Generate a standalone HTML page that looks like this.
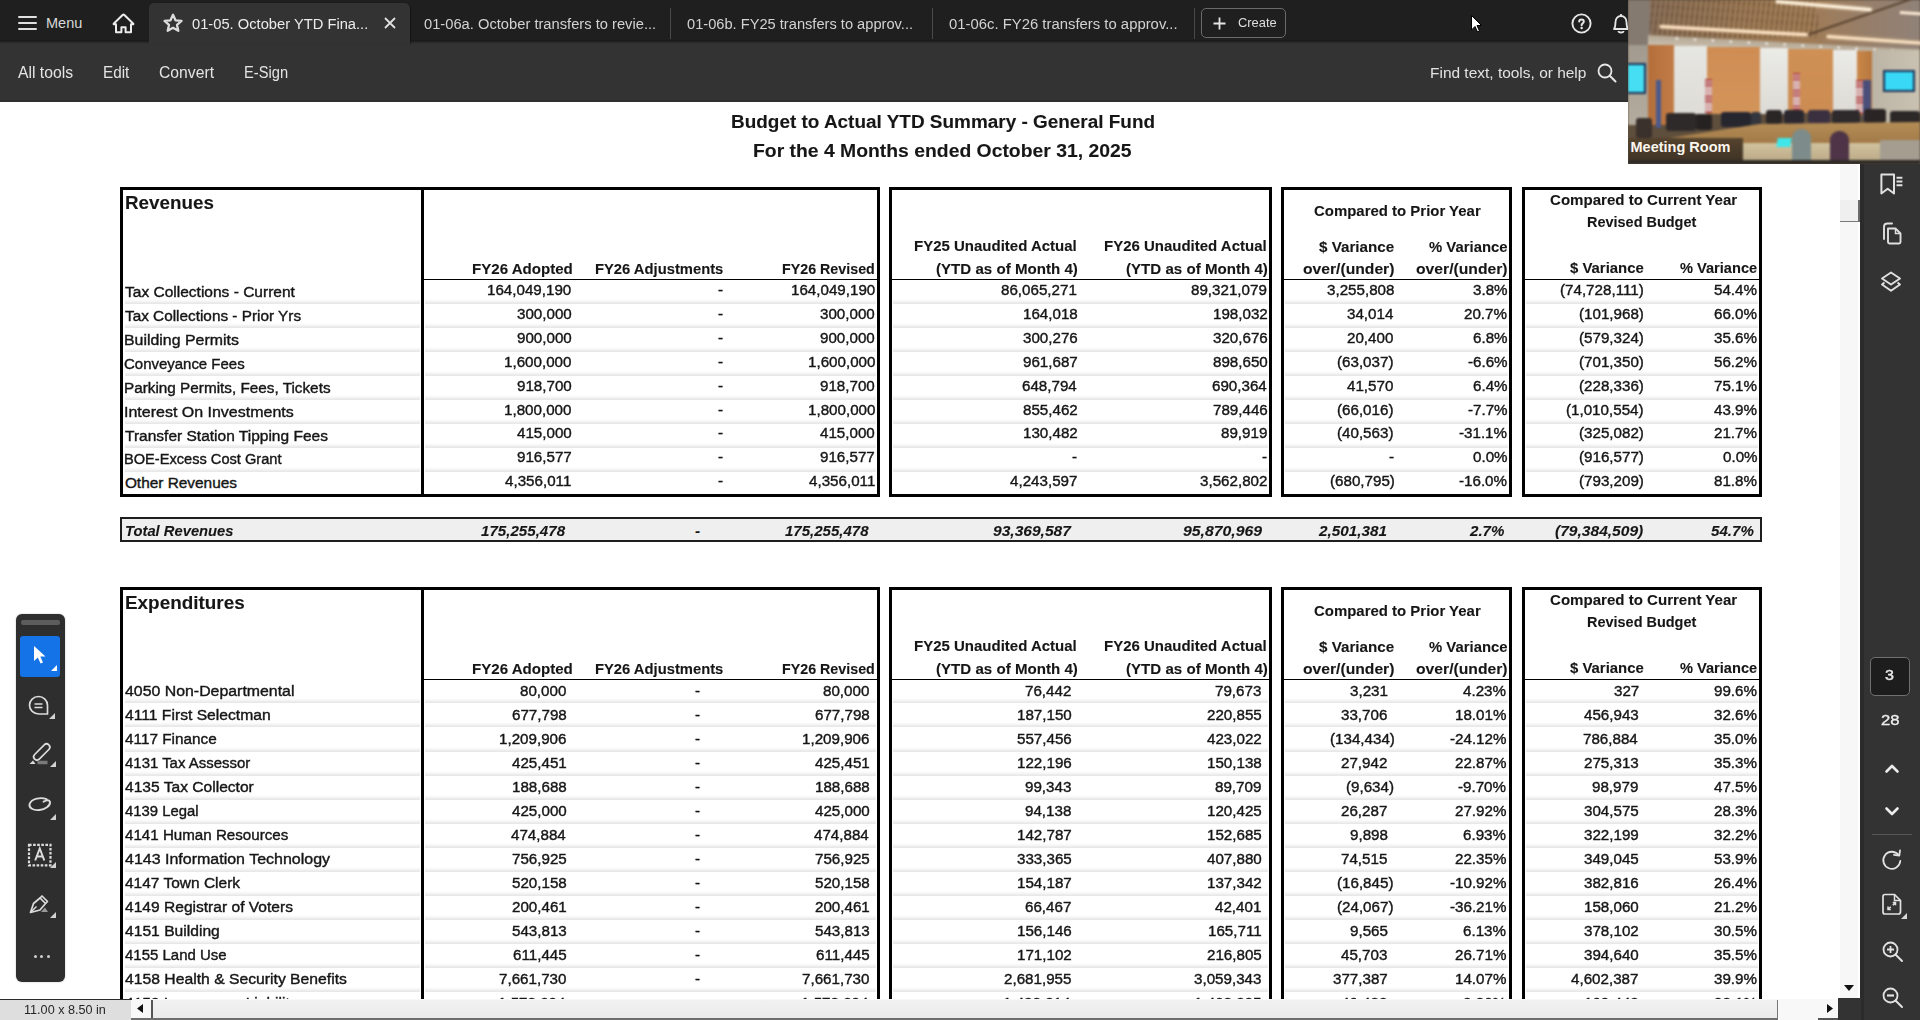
<!DOCTYPE html>
<html><head><meta charset="utf-8">
<style>
*{margin:0;padding:0;box-sizing:border-box}
html,body{width:1920px;height:1020px;overflow:hidden;background:#fff;font-family:"Liberation Sans",sans-serif}
.t{position:absolute;white-space:nowrap;transform-origin:0 0}
#page .t.n{-webkit-text-stroke:0.4px #161616}
#page .t{-webkit-text-stroke:0.1px #161616}
.t.sb{-webkit-text-stroke:0.35px #ededed}
.r{position:absolute}
#top{position:absolute;left:0;top:0;width:1920px;height:41px;background:#1f1f1f}
#tb{position:absolute;left:0;top:40px;width:1920px;height:62px;background:linear-gradient(180deg,#1a1a1a 0,#1c1c1c 1px,#2a2a2a 2.5px,#333 4px,#333 60px,#2e2e2e 61px,#2e2e2e 62px)}
#pagewrap{position:absolute;left:0;top:102px;width:1840px;height:897px;overflow:hidden;background:#fff}
#page{position:absolute;left:0;top:-102px;width:1840px;height:1100px}
.ui{position:absolute;white-space:nowrap;color:#e3e3e3;font-size:15px;line-height:15px}
svg{position:absolute;overflow:visible}
</style></head><body>
<div id="pagewrap"><div id="page">
<div class="t" style="left:730.65px;top:113.36px;font-size:18px;line-height:18px;font-weight:bold;color:#161616;transform:scaleX(1.0521);">Budget to Actual YTD Summary - General Fund</div>
<div class="t" style="left:752.93px;top:141.96px;font-size:18px;line-height:18px;font-weight:bold;color:#161616;transform:scaleX(1.0749);">For the 4 Months ended October 31, 2025</div>
<div class="r" style="left:120px;top:187px;width:760px;height:3px;background:#000;"></div>
<div class="r" style="left:120px;top:494px;width:760px;height:3px;background:#000;"></div>
<div class="r" style="left:120px;top:187px;width:3px;height:310px;background:#000;"></div>
<div class="r" style="left:877px;top:187px;width:3px;height:310px;background:#000;"></div>
<div class="r" style="left:889px;top:187px;width:383px;height:3px;background:#000;"></div>
<div class="r" style="left:889px;top:494px;width:383px;height:3px;background:#000;"></div>
<div class="r" style="left:889px;top:187px;width:3px;height:310px;background:#000;"></div>
<div class="r" style="left:1269px;top:187px;width:3px;height:310px;background:#000;"></div>
<div class="r" style="left:1281px;top:187px;width:231px;height:3px;background:#000;"></div>
<div class="r" style="left:1281px;top:494px;width:231px;height:3px;background:#000;"></div>
<div class="r" style="left:1281px;top:187px;width:3px;height:310px;background:#000;"></div>
<div class="r" style="left:1509px;top:187px;width:3px;height:310px;background:#000;"></div>
<div class="r" style="left:1522px;top:187px;width:240px;height:3px;background:#000;"></div>
<div class="r" style="left:1522px;top:494px;width:240px;height:3px;background:#000;"></div>
<div class="r" style="left:1522px;top:187px;width:3px;height:310px;background:#000;"></div>
<div class="r" style="left:1759px;top:187px;width:3px;height:310px;background:#000;"></div>
<div class="r" style="left:421px;top:187px;width:3px;height:310px;background:#000;"></div>
<div class="r" style="left:424px;top:278.7px;width:453px;height:1.5px;background:#000;"></div>
<div class="r" style="left:892px;top:278.7px;width:377px;height:1.5px;background:#000;"></div>
<div class="r" style="left:1284px;top:278.7px;width:225px;height:1.5px;background:#000;"></div>
<div class="r" style="left:1525px;top:278.7px;width:234px;height:1.5px;background:#000;"></div>
<div class="r" style="left:125px;top:299.0px;width:295px;height:5px;background:linear-gradient(180deg,rgba(0,0,0,0),rgba(0,0,0,.03) 40%,rgba(0,0,0,.085) 80%,rgba(0,0,0,.095));"></div>
<div class="r" style="left:425px;top:299.0px;width:451px;height:5px;background:linear-gradient(180deg,rgba(0,0,0,0),rgba(0,0,0,.03) 40%,rgba(0,0,0,.085) 80%,rgba(0,0,0,.095));"></div>
<div class="r" style="left:893px;top:299.0px;width:375px;height:5px;background:linear-gradient(180deg,rgba(0,0,0,0),rgba(0,0,0,.03) 40%,rgba(0,0,0,.085) 80%,rgba(0,0,0,.095));"></div>
<div class="r" style="left:1285px;top:299.0px;width:223px;height:5px;background:linear-gradient(180deg,rgba(0,0,0,0),rgba(0,0,0,.03) 40%,rgba(0,0,0,.085) 80%,rgba(0,0,0,.095));"></div>
<div class="r" style="left:1526px;top:299.0px;width:232px;height:5px;background:linear-gradient(180deg,rgba(0,0,0,0),rgba(0,0,0,.03) 40%,rgba(0,0,0,.085) 80%,rgba(0,0,0,.095));"></div>
<div class="r" style="left:125px;top:322.93px;width:295px;height:5px;background:linear-gradient(180deg,rgba(0,0,0,0),rgba(0,0,0,.03) 40%,rgba(0,0,0,.085) 80%,rgba(0,0,0,.095));"></div>
<div class="r" style="left:425px;top:322.93px;width:451px;height:5px;background:linear-gradient(180deg,rgba(0,0,0,0),rgba(0,0,0,.03) 40%,rgba(0,0,0,.085) 80%,rgba(0,0,0,.095));"></div>
<div class="r" style="left:893px;top:322.93px;width:375px;height:5px;background:linear-gradient(180deg,rgba(0,0,0,0),rgba(0,0,0,.03) 40%,rgba(0,0,0,.085) 80%,rgba(0,0,0,.095));"></div>
<div class="r" style="left:1285px;top:322.93px;width:223px;height:5px;background:linear-gradient(180deg,rgba(0,0,0,0),rgba(0,0,0,.03) 40%,rgba(0,0,0,.085) 80%,rgba(0,0,0,.095));"></div>
<div class="r" style="left:1526px;top:322.93px;width:232px;height:5px;background:linear-gradient(180deg,rgba(0,0,0,0),rgba(0,0,0,.03) 40%,rgba(0,0,0,.085) 80%,rgba(0,0,0,.095));"></div>
<div class="r" style="left:125px;top:346.86px;width:295px;height:5px;background:linear-gradient(180deg,rgba(0,0,0,0),rgba(0,0,0,.03) 40%,rgba(0,0,0,.085) 80%,rgba(0,0,0,.095));"></div>
<div class="r" style="left:425px;top:346.86px;width:451px;height:5px;background:linear-gradient(180deg,rgba(0,0,0,0),rgba(0,0,0,.03) 40%,rgba(0,0,0,.085) 80%,rgba(0,0,0,.095));"></div>
<div class="r" style="left:893px;top:346.86px;width:375px;height:5px;background:linear-gradient(180deg,rgba(0,0,0,0),rgba(0,0,0,.03) 40%,rgba(0,0,0,.085) 80%,rgba(0,0,0,.095));"></div>
<div class="r" style="left:1285px;top:346.86px;width:223px;height:5px;background:linear-gradient(180deg,rgba(0,0,0,0),rgba(0,0,0,.03) 40%,rgba(0,0,0,.085) 80%,rgba(0,0,0,.095));"></div>
<div class="r" style="left:1526px;top:346.86px;width:232px;height:5px;background:linear-gradient(180deg,rgba(0,0,0,0),rgba(0,0,0,.03) 40%,rgba(0,0,0,.085) 80%,rgba(0,0,0,.095));"></div>
<div class="r" style="left:125px;top:370.78999999999996px;width:295px;height:5px;background:linear-gradient(180deg,rgba(0,0,0,0),rgba(0,0,0,.03) 40%,rgba(0,0,0,.085) 80%,rgba(0,0,0,.095));"></div>
<div class="r" style="left:425px;top:370.78999999999996px;width:451px;height:5px;background:linear-gradient(180deg,rgba(0,0,0,0),rgba(0,0,0,.03) 40%,rgba(0,0,0,.085) 80%,rgba(0,0,0,.095));"></div>
<div class="r" style="left:893px;top:370.78999999999996px;width:375px;height:5px;background:linear-gradient(180deg,rgba(0,0,0,0),rgba(0,0,0,.03) 40%,rgba(0,0,0,.085) 80%,rgba(0,0,0,.095));"></div>
<div class="r" style="left:1285px;top:370.78999999999996px;width:223px;height:5px;background:linear-gradient(180deg,rgba(0,0,0,0),rgba(0,0,0,.03) 40%,rgba(0,0,0,.085) 80%,rgba(0,0,0,.095));"></div>
<div class="r" style="left:1526px;top:370.78999999999996px;width:232px;height:5px;background:linear-gradient(180deg,rgba(0,0,0,0),rgba(0,0,0,.03) 40%,rgba(0,0,0,.085) 80%,rgba(0,0,0,.095));"></div>
<div class="r" style="left:125px;top:394.72px;width:295px;height:5px;background:linear-gradient(180deg,rgba(0,0,0,0),rgba(0,0,0,.03) 40%,rgba(0,0,0,.085) 80%,rgba(0,0,0,.095));"></div>
<div class="r" style="left:425px;top:394.72px;width:451px;height:5px;background:linear-gradient(180deg,rgba(0,0,0,0),rgba(0,0,0,.03) 40%,rgba(0,0,0,.085) 80%,rgba(0,0,0,.095));"></div>
<div class="r" style="left:893px;top:394.72px;width:375px;height:5px;background:linear-gradient(180deg,rgba(0,0,0,0),rgba(0,0,0,.03) 40%,rgba(0,0,0,.085) 80%,rgba(0,0,0,.095));"></div>
<div class="r" style="left:1285px;top:394.72px;width:223px;height:5px;background:linear-gradient(180deg,rgba(0,0,0,0),rgba(0,0,0,.03) 40%,rgba(0,0,0,.085) 80%,rgba(0,0,0,.095));"></div>
<div class="r" style="left:1526px;top:394.72px;width:232px;height:5px;background:linear-gradient(180deg,rgba(0,0,0,0),rgba(0,0,0,.03) 40%,rgba(0,0,0,.085) 80%,rgba(0,0,0,.095));"></div>
<div class="r" style="left:125px;top:418.65px;width:295px;height:5px;background:linear-gradient(180deg,rgba(0,0,0,0),rgba(0,0,0,.03) 40%,rgba(0,0,0,.085) 80%,rgba(0,0,0,.095));"></div>
<div class="r" style="left:425px;top:418.65px;width:451px;height:5px;background:linear-gradient(180deg,rgba(0,0,0,0),rgba(0,0,0,.03) 40%,rgba(0,0,0,.085) 80%,rgba(0,0,0,.095));"></div>
<div class="r" style="left:893px;top:418.65px;width:375px;height:5px;background:linear-gradient(180deg,rgba(0,0,0,0),rgba(0,0,0,.03) 40%,rgba(0,0,0,.085) 80%,rgba(0,0,0,.095));"></div>
<div class="r" style="left:1285px;top:418.65px;width:223px;height:5px;background:linear-gradient(180deg,rgba(0,0,0,0),rgba(0,0,0,.03) 40%,rgba(0,0,0,.085) 80%,rgba(0,0,0,.095));"></div>
<div class="r" style="left:1526px;top:418.65px;width:232px;height:5px;background:linear-gradient(180deg,rgba(0,0,0,0),rgba(0,0,0,.03) 40%,rgba(0,0,0,.085) 80%,rgba(0,0,0,.095));"></div>
<div class="r" style="left:125px;top:442.58px;width:295px;height:5px;background:linear-gradient(180deg,rgba(0,0,0,0),rgba(0,0,0,.03) 40%,rgba(0,0,0,.085) 80%,rgba(0,0,0,.095));"></div>
<div class="r" style="left:425px;top:442.58px;width:451px;height:5px;background:linear-gradient(180deg,rgba(0,0,0,0),rgba(0,0,0,.03) 40%,rgba(0,0,0,.085) 80%,rgba(0,0,0,.095));"></div>
<div class="r" style="left:893px;top:442.58px;width:375px;height:5px;background:linear-gradient(180deg,rgba(0,0,0,0),rgba(0,0,0,.03) 40%,rgba(0,0,0,.085) 80%,rgba(0,0,0,.095));"></div>
<div class="r" style="left:1285px;top:442.58px;width:223px;height:5px;background:linear-gradient(180deg,rgba(0,0,0,0),rgba(0,0,0,.03) 40%,rgba(0,0,0,.085) 80%,rgba(0,0,0,.095));"></div>
<div class="r" style="left:1526px;top:442.58px;width:232px;height:5px;background:linear-gradient(180deg,rgba(0,0,0,0),rgba(0,0,0,.03) 40%,rgba(0,0,0,.085) 80%,rgba(0,0,0,.095));"></div>
<div class="r" style="left:125px;top:466.51px;width:295px;height:5px;background:linear-gradient(180deg,rgba(0,0,0,0),rgba(0,0,0,.03) 40%,rgba(0,0,0,.085) 80%,rgba(0,0,0,.095));"></div>
<div class="r" style="left:425px;top:466.51px;width:451px;height:5px;background:linear-gradient(180deg,rgba(0,0,0,0),rgba(0,0,0,.03) 40%,rgba(0,0,0,.085) 80%,rgba(0,0,0,.095));"></div>
<div class="r" style="left:893px;top:466.51px;width:375px;height:5px;background:linear-gradient(180deg,rgba(0,0,0,0),rgba(0,0,0,.03) 40%,rgba(0,0,0,.085) 80%,rgba(0,0,0,.095));"></div>
<div class="r" style="left:1285px;top:466.51px;width:223px;height:5px;background:linear-gradient(180deg,rgba(0,0,0,0),rgba(0,0,0,.03) 40%,rgba(0,0,0,.085) 80%,rgba(0,0,0,.095));"></div>
<div class="r" style="left:1526px;top:466.51px;width:232px;height:5px;background:linear-gradient(180deg,rgba(0,0,0,0),rgba(0,0,0,.03) 40%,rgba(0,0,0,.085) 80%,rgba(0,0,0,.095));"></div>
<div class="t" style="left:124.76px;top:194.36px;font-size:18px;line-height:18px;font-weight:bold;color:#161616;transform:scaleX(1.0446);">Revenues</div>
<div class="t" style="left:471.57px;top:261.66px;font-size:14.7px;line-height:14.7px;font-weight:bold;color:#161616;transform:scaleX(1.0260);">FY26 Adopted</div>
<div class="t" style="left:594.69px;top:261.66px;font-size:14.7px;line-height:14.7px;font-weight:bold;color:#161616;transform:scaleX(1.0056);">FY26 Adjustments</div>
<div class="t" style="left:782.03px;top:261.66px;font-size:14.7px;line-height:14.7px;font-weight:bold;color:#161616;transform:scaleX(0.9713);">FY26 Revised</div>
<div class="t" style="left:914.18px;top:239.46px;font-size:14.7px;line-height:14.7px;font-weight:bold;color:#161616;transform:scaleX(1.0209);">FY25 Unaudited Actual</div>
<div class="t" style="left:935.57px;top:261.66px;font-size:14.7px;line-height:14.7px;font-weight:bold;color:#161616;transform:scaleX(1.0287);">(YTD as of Month 4)</div>
<div class="t" style="left:1104.28px;top:239.46px;font-size:14.7px;line-height:14.7px;font-weight:bold;color:#161616;transform:scaleX(1.0203);">FY26 Unaudited Actual</div>
<div class="t" style="left:1125.57px;top:261.66px;font-size:14.7px;line-height:14.7px;font-weight:bold;color:#161616;transform:scaleX(1.0287);">(YTD as of Month 4)</div>
<div class="t" style="left:1313.68px;top:203.96px;font-size:14.7px;line-height:14.7px;font-weight:bold;color:#161616;transform:scaleX(1.0178);">Compared to Prior Year</div>
<div class="t" style="left:1318.70px;top:239.66px;font-size:14.7px;line-height:14.7px;font-weight:bold;color:#161616;transform:scaleX(1.0347);">$ Variance</div>
<div class="t" style="left:1302.50px;top:261.66px;font-size:14.7px;line-height:14.7px;font-weight:bold;color:#161616;transform:scaleX(1.0671);">over/(under)</div>
<div class="t" style="left:1429.00px;top:239.66px;font-size:14.7px;line-height:14.7px;font-weight:bold;color:#161616;transform:scaleX(1.0130);">% Variance</div>
<div class="t" style="left:1416.20px;top:261.66px;font-size:14.7px;line-height:14.7px;font-weight:bold;color:#161616;transform:scaleX(1.0682);">over/(under)</div>
<div class="t" style="left:1550.47px;top:192.66px;font-size:14.7px;line-height:14.7px;font-weight:bold;color:#161616;transform:scaleX(1.0254);">Compared to Current Year</div>
<div class="t" style="left:1587.02px;top:215.16px;font-size:14.7px;line-height:14.7px;font-weight:bold;color:#161616;transform:scaleX(0.9845);">Revised Budget</div>
<div class="t" style="left:1569.80px;top:260.96px;font-size:14.7px;line-height:14.7px;font-weight:bold;color:#161616;transform:scaleX(1.0153);">$ Variance</div>
<div class="t" style="left:1680.20px;top:260.96px;font-size:14.7px;line-height:14.7px;font-weight:bold;color:#161616;transform:scaleX(0.9948);">% Variance</div>
<div class="t n" style="left:124.90px;top:283.96px;font-size:15.4px;line-height:15.4px;color:#161616;transform:scaleX(1.0083);">Tax Collections - Current</div>
<div class="t n" style="left:487.48px;top:281.86px;font-size:15.4px;line-height:15.4px;color:#161616;transform:scaleX(0.9850);">164,049,190</div>
<div class="t n" style="left:718.28px;top:281.86px;font-size:15.4px;line-height:15.4px;color:#161616;transform:scaleX(0.9850);">-</div>
<div class="t n" style="left:790.88px;top:281.86px;font-size:15.4px;line-height:15.4px;color:#161616;transform:scaleX(0.9850);">164,049,190</div>
<div class="t n" style="left:1000.95px;top:281.86px;font-size:15.4px;line-height:15.4px;color:#161616;transform:scaleX(0.9850);">86,065,271</div>
<div class="t n" style="left:1190.95px;top:281.86px;font-size:15.4px;line-height:15.4px;color:#161616;transform:scaleX(0.9850);">89,321,079</div>
<div class="t n" style="left:1326.62px;top:281.86px;font-size:15.4px;line-height:15.4px;color:#161616;transform:scaleX(0.9850);">3,255,808</div>
<div class="t n" style="left:1472.73px;top:281.86px;font-size:15.4px;line-height:15.4px;color:#161616;transform:scaleX(0.9850);">3.8%</div>
<div class="t n" style="left:1560.46px;top:281.86px;font-size:15.4px;line-height:15.4px;color:#161616;transform:scaleX(0.9850);">(74,728,111)</div>
<div class="t n" style="left:1713.66px;top:281.86px;font-size:15.4px;line-height:15.4px;color:#161616;transform:scaleX(0.9850);">54.4%</div>
<div class="t n" style="left:124.90px;top:307.89px;font-size:15.4px;line-height:15.4px;color:#161616;transform:scaleX(0.9960);">Tax Collections - Prior Yrs</div>
<div class="t n" style="left:517.03px;top:305.79px;font-size:15.4px;line-height:15.4px;color:#161616;transform:scaleX(0.9850);">300,000</div>
<div class="t n" style="left:718.28px;top:305.79px;font-size:15.4px;line-height:15.4px;color:#161616;transform:scaleX(0.9850);">-</div>
<div class="t n" style="left:820.43px;top:305.79px;font-size:15.4px;line-height:15.4px;color:#161616;transform:scaleX(0.9850);">300,000</div>
<div class="t n" style="left:1022.62px;top:305.79px;font-size:15.4px;line-height:15.4px;color:#161616;transform:scaleX(0.9850);">164,018</div>
<div class="t n" style="left:1212.62px;top:305.79px;font-size:15.4px;line-height:15.4px;color:#161616;transform:scaleX(0.9850);">198,032</div>
<div class="t n" style="left:1347.30px;top:305.79px;font-size:15.4px;line-height:15.4px;color:#161616;transform:scaleX(0.9850);">34,014</div>
<div class="t n" style="left:1463.86px;top:305.79px;font-size:15.4px;line-height:15.4px;color:#161616;transform:scaleX(0.9850);">20.7%</div>
<div class="t n" style="left:1579.17px;top:305.79px;font-size:15.4px;line-height:15.4px;color:#161616;transform:scaleX(0.9850);">(101,968)</div>
<div class="t n" style="left:1713.66px;top:305.79px;font-size:15.4px;line-height:15.4px;color:#161616;transform:scaleX(0.9850);">66.0%</div>
<div class="t n" style="left:123.87px;top:331.82px;font-size:15.4px;line-height:15.4px;color:#161616;transform:scaleX(1.0327);">Building Permits</div>
<div class="t n" style="left:517.03px;top:329.72px;font-size:15.4px;line-height:15.4px;color:#161616;transform:scaleX(0.9850);">900,000</div>
<div class="t n" style="left:718.28px;top:329.72px;font-size:15.4px;line-height:15.4px;color:#161616;transform:scaleX(0.9850);">-</div>
<div class="t n" style="left:820.43px;top:329.72px;font-size:15.4px;line-height:15.4px;color:#161616;transform:scaleX(0.9850);">900,000</div>
<div class="t n" style="left:1022.62px;top:329.72px;font-size:15.4px;line-height:15.4px;color:#161616;transform:scaleX(0.9850);">300,276</div>
<div class="t n" style="left:1212.62px;top:329.72px;font-size:15.4px;line-height:15.4px;color:#161616;transform:scaleX(0.9850);">320,676</div>
<div class="t n" style="left:1347.30px;top:329.72px;font-size:15.4px;line-height:15.4px;color:#161616;transform:scaleX(0.9850);">20,400</div>
<div class="t n" style="left:1472.73px;top:329.72px;font-size:15.4px;line-height:15.4px;color:#161616;transform:scaleX(0.9850);">6.8%</div>
<div class="t n" style="left:1579.17px;top:329.72px;font-size:15.4px;line-height:15.4px;color:#161616;transform:scaleX(0.9850);">(579,324)</div>
<div class="t n" style="left:1713.66px;top:329.72px;font-size:15.4px;line-height:15.4px;color:#161616;transform:scaleX(0.9850);">35.6%</div>
<div class="t n" style="left:123.93px;top:355.75px;font-size:15.4px;line-height:15.4px;color:#161616;transform:scaleX(0.9724);">Conveyance Fees</div>
<div class="t n" style="left:504.22px;top:353.65px;font-size:15.4px;line-height:15.4px;color:#161616;transform:scaleX(0.9850);">1,600,000</div>
<div class="t n" style="left:718.28px;top:353.65px;font-size:15.4px;line-height:15.4px;color:#161616;transform:scaleX(0.9850);">-</div>
<div class="t n" style="left:807.62px;top:353.65px;font-size:15.4px;line-height:15.4px;color:#161616;transform:scaleX(0.9850);">1,600,000</div>
<div class="t n" style="left:1022.62px;top:353.65px;font-size:15.4px;line-height:15.4px;color:#161616;transform:scaleX(0.9850);">961,687</div>
<div class="t n" style="left:1212.62px;top:353.65px;font-size:15.4px;line-height:15.4px;color:#161616;transform:scaleX(0.9850);">898,650</div>
<div class="t n" style="left:1337.45px;top:353.65px;font-size:15.4px;line-height:15.4px;color:#161616;transform:scaleX(0.9850);">(63,037)</div>
<div class="t n" style="left:1467.80px;top:353.65px;font-size:15.4px;line-height:15.4px;color:#161616;transform:scaleX(0.9850);">-6.6%</div>
<div class="t n" style="left:1579.17px;top:353.65px;font-size:15.4px;line-height:15.4px;color:#161616;transform:scaleX(0.9850);">(701,350)</div>
<div class="t n" style="left:1713.66px;top:353.65px;font-size:15.4px;line-height:15.4px;color:#161616;transform:scaleX(0.9850);">56.2%</div>
<div class="t n" style="left:123.91px;top:379.68px;font-size:15.4px;line-height:15.4px;color:#161616;transform:scaleX(0.9937);">Parking Permits, Fees, Tickets</div>
<div class="t n" style="left:517.03px;top:377.58px;font-size:15.4px;line-height:15.4px;color:#161616;transform:scaleX(0.9850);">918,700</div>
<div class="t n" style="left:718.28px;top:377.58px;font-size:15.4px;line-height:15.4px;color:#161616;transform:scaleX(0.9850);">-</div>
<div class="t n" style="left:820.43px;top:377.58px;font-size:15.4px;line-height:15.4px;color:#161616;transform:scaleX(0.9850);">918,700</div>
<div class="t n" style="left:1021.64px;top:377.58px;font-size:15.4px;line-height:15.4px;color:#161616;transform:scaleX(0.9850);">648,794</div>
<div class="t n" style="left:1211.64px;top:377.58px;font-size:15.4px;line-height:15.4px;color:#161616;transform:scaleX(0.9850);">690,364</div>
<div class="t n" style="left:1347.30px;top:377.58px;font-size:15.4px;line-height:15.4px;color:#161616;transform:scaleX(0.9850);">41,570</div>
<div class="t n" style="left:1472.73px;top:377.58px;font-size:15.4px;line-height:15.4px;color:#161616;transform:scaleX(0.9850);">6.4%</div>
<div class="t n" style="left:1579.17px;top:377.58px;font-size:15.4px;line-height:15.4px;color:#161616;transform:scaleX(0.9850);">(228,336)</div>
<div class="t n" style="left:1713.66px;top:377.58px;font-size:15.4px;line-height:15.4px;color:#161616;transform:scaleX(0.9850);">75.1%</div>
<div class="t n" style="left:123.86px;top:403.61px;font-size:15.4px;line-height:15.4px;color:#161616;transform:scaleX(1.0389);">Interest On Investments</div>
<div class="t n" style="left:504.22px;top:401.51px;font-size:15.4px;line-height:15.4px;color:#161616;transform:scaleX(0.9850);">1,800,000</div>
<div class="t n" style="left:718.28px;top:401.51px;font-size:15.4px;line-height:15.4px;color:#161616;transform:scaleX(0.9850);">-</div>
<div class="t n" style="left:807.62px;top:401.51px;font-size:15.4px;line-height:15.4px;color:#161616;transform:scaleX(0.9850);">1,800,000</div>
<div class="t n" style="left:1022.62px;top:401.51px;font-size:15.4px;line-height:15.4px;color:#161616;transform:scaleX(0.9850);">855,462</div>
<div class="t n" style="left:1212.62px;top:401.51px;font-size:15.4px;line-height:15.4px;color:#161616;transform:scaleX(0.9850);">789,446</div>
<div class="t n" style="left:1337.45px;top:401.51px;font-size:15.4px;line-height:15.4px;color:#161616;transform:scaleX(0.9850);">(66,016)</div>
<div class="t n" style="left:1467.80px;top:401.51px;font-size:15.4px;line-height:15.4px;color:#161616;transform:scaleX(0.9850);">-7.7%</div>
<div class="t n" style="left:1566.37px;top:401.51px;font-size:15.4px;line-height:15.4px;color:#161616;transform:scaleX(0.9850);">(1,010,554)</div>
<div class="t n" style="left:1713.66px;top:401.51px;font-size:15.4px;line-height:15.4px;color:#161616;transform:scaleX(0.9850);">43.9%</div>
<div class="t n" style="left:124.90px;top:427.54px;font-size:15.4px;line-height:15.4px;color:#161616;transform:scaleX(1.0080);">Transfer Station Tipping Fees</div>
<div class="t n" style="left:517.03px;top:425.44px;font-size:15.4px;line-height:15.4px;color:#161616;transform:scaleX(0.9850);">415,000</div>
<div class="t n" style="left:718.28px;top:425.44px;font-size:15.4px;line-height:15.4px;color:#161616;transform:scaleX(0.9850);">-</div>
<div class="t n" style="left:820.43px;top:425.44px;font-size:15.4px;line-height:15.4px;color:#161616;transform:scaleX(0.9850);">415,000</div>
<div class="t n" style="left:1022.62px;top:425.44px;font-size:15.4px;line-height:15.4px;color:#161616;transform:scaleX(0.9850);">130,482</div>
<div class="t n" style="left:1220.50px;top:425.44px;font-size:15.4px;line-height:15.4px;color:#161616;transform:scaleX(0.9850);">89,919</div>
<div class="t n" style="left:1337.45px;top:425.44px;font-size:15.4px;line-height:15.4px;color:#161616;transform:scaleX(0.9850);">(40,563)</div>
<div class="t n" style="left:1458.93px;top:425.44px;font-size:15.4px;line-height:15.4px;color:#161616;transform:scaleX(0.9850);">-31.1%</div>
<div class="t n" style="left:1579.17px;top:425.44px;font-size:15.4px;line-height:15.4px;color:#161616;transform:scaleX(0.9850);">(325,082)</div>
<div class="t n" style="left:1713.66px;top:425.44px;font-size:15.4px;line-height:15.4px;color:#161616;transform:scaleX(0.9850);">21.7%</div>
<div class="t n" style="left:123.95px;top:451.47px;font-size:15.4px;line-height:15.4px;color:#161616;transform:scaleX(0.9491);">BOE-Excess Cost Grant</div>
<div class="t n" style="left:517.03px;top:449.37px;font-size:15.4px;line-height:15.4px;color:#161616;transform:scaleX(0.9850);">916,577</div>
<div class="t n" style="left:718.28px;top:449.37px;font-size:15.4px;line-height:15.4px;color:#161616;transform:scaleX(0.9850);">-</div>
<div class="t n" style="left:820.43px;top:449.37px;font-size:15.4px;line-height:15.4px;color:#161616;transform:scaleX(0.9850);">916,577</div>
<div class="t n" style="left:1071.88px;top:449.37px;font-size:15.4px;line-height:15.4px;color:#161616;transform:scaleX(0.9850);">-</div>
<div class="t n" style="left:1261.88px;top:449.37px;font-size:15.4px;line-height:15.4px;color:#161616;transform:scaleX(0.9850);">-</div>
<div class="t n" style="left:1388.67px;top:449.37px;font-size:15.4px;line-height:15.4px;color:#161616;transform:scaleX(0.9850);">-</div>
<div class="t n" style="left:1472.73px;top:449.37px;font-size:15.4px;line-height:15.4px;color:#161616;transform:scaleX(0.9850);">0.0%</div>
<div class="t n" style="left:1579.17px;top:449.37px;font-size:15.4px;line-height:15.4px;color:#161616;transform:scaleX(0.9850);">(916,577)</div>
<div class="t n" style="left:1722.53px;top:449.37px;font-size:15.4px;line-height:15.4px;color:#161616;transform:scaleX(0.9850);">0.0%</div>
<div class="t n" style="left:124.90px;top:475.40px;font-size:15.4px;line-height:15.4px;color:#161616;">Other Revenues</div>
<div class="t n" style="left:505.21px;top:473.30px;font-size:15.4px;line-height:15.4px;color:#161616;transform:scaleX(0.9850);">4,356,011</div>
<div class="t n" style="left:718.28px;top:473.30px;font-size:15.4px;line-height:15.4px;color:#161616;transform:scaleX(0.9850);">-</div>
<div class="t n" style="left:808.61px;top:473.30px;font-size:15.4px;line-height:15.4px;color:#161616;transform:scaleX(0.9850);">4,356,011</div>
<div class="t n" style="left:1009.82px;top:473.30px;font-size:15.4px;line-height:15.4px;color:#161616;transform:scaleX(0.9850);">4,243,597</div>
<div class="t n" style="left:1199.82px;top:473.30px;font-size:15.4px;line-height:15.4px;color:#161616;transform:scaleX(0.9850);">3,562,802</div>
<div class="t n" style="left:1329.57px;top:473.30px;font-size:15.4px;line-height:15.4px;color:#161616;transform:scaleX(0.9850);">(680,795)</div>
<div class="t n" style="left:1458.93px;top:473.30px;font-size:15.4px;line-height:15.4px;color:#161616;transform:scaleX(0.9850);">-16.0%</div>
<div class="t n" style="left:1579.17px;top:473.30px;font-size:15.4px;line-height:15.4px;color:#161616;transform:scaleX(0.9850);">(793,209)</div>
<div class="t n" style="left:1713.66px;top:473.30px;font-size:15.4px;line-height:15.4px;color:#161616;transform:scaleX(0.9850);">81.8%</div>
<div class="r" style="left:120.3px;top:517.4px;width:1641.5px;height:24.4px;background:#efefef;border:2px solid #1e1e1e;box-sizing:border-box;"></div>
<div class="t" style="left:124.64px;top:522.56px;font-size:15.4px;line-height:15.4px;font-weight:bold;font-style:italic;color:#161616;transform:scaleX(0.9589);">Total Revenues</div>
<div class="t" style="left:480.70px;top:522.56px;font-size:15.4px;line-height:15.4px;font-weight:bold;font-style:italic;color:#161616;transform:scaleX(0.9826);">175,255,478</div>
<div class="t" style="left:695.00px;top:522.56px;font-size:15.4px;line-height:15.4px;font-weight:bold;font-style:italic;color:#161616;">-</div>
<div class="t" style="left:784.60px;top:522.56px;font-size:15.4px;line-height:15.4px;font-weight:bold;font-style:italic;color:#161616;transform:scaleX(0.9767);">175,255,478</div>
<div class="t" style="left:992.99px;top:522.56px;font-size:15.4px;line-height:15.4px;font-weight:bold;font-style:italic;color:#161616;transform:scaleX(1.0117);">93,369,587</div>
<div class="t" style="left:1182.97px;top:522.56px;font-size:15.4px;line-height:15.4px;font-weight:bold;font-style:italic;color:#161616;transform:scaleX(1.0263);">95,870,969</div>
<div class="t" style="left:1319.30px;top:522.56px;font-size:15.4px;line-height:15.4px;font-weight:bold;font-style:italic;color:#161616;transform:scaleX(0.9912);">2,501,381</div>
<div class="t" style="left:1469.70px;top:522.56px;font-size:15.4px;line-height:15.4px;font-weight:bold;font-style:italic;color:#161616;transform:scaleX(0.9800);">2.7%</div>
<div class="t" style="left:1555.40px;top:522.56px;font-size:15.4px;line-height:15.4px;font-weight:bold;font-style:italic;color:#161616;transform:scaleX(1.0115);">(79,384,509)</div>
<div class="t" style="left:1711.20px;top:522.56px;font-size:15.4px;line-height:15.4px;font-weight:bold;font-style:italic;color:#161616;transform:scaleX(0.9814);">54.7%</div>
<div class="r" style="left:120px;top:587px;width:760px;height:3px;background:#000;"></div>
<div class="r" style="left:120px;top:587px;width:3px;height:413px;background:#000;"></div>
<div class="r" style="left:877px;top:587px;width:3px;height:413px;background:#000;"></div>
<div class="r" style="left:889px;top:587px;width:383px;height:3px;background:#000;"></div>
<div class="r" style="left:889px;top:587px;width:3px;height:413px;background:#000;"></div>
<div class="r" style="left:1269px;top:587px;width:3px;height:413px;background:#000;"></div>
<div class="r" style="left:1281px;top:587px;width:231px;height:3px;background:#000;"></div>
<div class="r" style="left:1281px;top:587px;width:3px;height:413px;background:#000;"></div>
<div class="r" style="left:1509px;top:587px;width:3px;height:413px;background:#000;"></div>
<div class="r" style="left:1522px;top:587px;width:240px;height:3px;background:#000;"></div>
<div class="r" style="left:1522px;top:587px;width:3px;height:413px;background:#000;"></div>
<div class="r" style="left:1759px;top:587px;width:3px;height:413px;background:#000;"></div>
<div class="r" style="left:421px;top:587px;width:3px;height:413px;background:#000;"></div>
<div class="r" style="left:424px;top:678.7px;width:453px;height:1.5px;background:#000;"></div>
<div class="r" style="left:892px;top:678.7px;width:377px;height:1.5px;background:#000;"></div>
<div class="r" style="left:1284px;top:678.7px;width:225px;height:1.5px;background:#000;"></div>
<div class="r" style="left:1525px;top:678.7px;width:234px;height:1.5px;background:#000;"></div>
<div class="r" style="left:125px;top:698.4px;width:295px;height:5px;background:linear-gradient(180deg,rgba(0,0,0,0),rgba(0,0,0,.03) 40%,rgba(0,0,0,.085) 80%,rgba(0,0,0,.095));"></div>
<div class="r" style="left:425px;top:698.4px;width:451px;height:5px;background:linear-gradient(180deg,rgba(0,0,0,0),rgba(0,0,0,.03) 40%,rgba(0,0,0,.085) 80%,rgba(0,0,0,.095));"></div>
<div class="r" style="left:893px;top:698.4px;width:375px;height:5px;background:linear-gradient(180deg,rgba(0,0,0,0),rgba(0,0,0,.03) 40%,rgba(0,0,0,.085) 80%,rgba(0,0,0,.095));"></div>
<div class="r" style="left:1285px;top:698.4px;width:223px;height:5px;background:linear-gradient(180deg,rgba(0,0,0,0),rgba(0,0,0,.03) 40%,rgba(0,0,0,.085) 80%,rgba(0,0,0,.095));"></div>
<div class="r" style="left:1526px;top:698.4px;width:232px;height:5px;background:linear-gradient(180deg,rgba(0,0,0,0),rgba(0,0,0,.03) 40%,rgba(0,0,0,.085) 80%,rgba(0,0,0,.095));"></div>
<div class="r" style="left:125px;top:722.4499999999999px;width:295px;height:5px;background:linear-gradient(180deg,rgba(0,0,0,0),rgba(0,0,0,.03) 40%,rgba(0,0,0,.085) 80%,rgba(0,0,0,.095));"></div>
<div class="r" style="left:425px;top:722.4499999999999px;width:451px;height:5px;background:linear-gradient(180deg,rgba(0,0,0,0),rgba(0,0,0,.03) 40%,rgba(0,0,0,.085) 80%,rgba(0,0,0,.095));"></div>
<div class="r" style="left:893px;top:722.4499999999999px;width:375px;height:5px;background:linear-gradient(180deg,rgba(0,0,0,0),rgba(0,0,0,.03) 40%,rgba(0,0,0,.085) 80%,rgba(0,0,0,.095));"></div>
<div class="r" style="left:1285px;top:722.4499999999999px;width:223px;height:5px;background:linear-gradient(180deg,rgba(0,0,0,0),rgba(0,0,0,.03) 40%,rgba(0,0,0,.085) 80%,rgba(0,0,0,.095));"></div>
<div class="r" style="left:1526px;top:722.4499999999999px;width:232px;height:5px;background:linear-gradient(180deg,rgba(0,0,0,0),rgba(0,0,0,.03) 40%,rgba(0,0,0,.085) 80%,rgba(0,0,0,.095));"></div>
<div class="r" style="left:125px;top:746.5px;width:295px;height:5px;background:linear-gradient(180deg,rgba(0,0,0,0),rgba(0,0,0,.03) 40%,rgba(0,0,0,.085) 80%,rgba(0,0,0,.095));"></div>
<div class="r" style="left:425px;top:746.5px;width:451px;height:5px;background:linear-gradient(180deg,rgba(0,0,0,0),rgba(0,0,0,.03) 40%,rgba(0,0,0,.085) 80%,rgba(0,0,0,.095));"></div>
<div class="r" style="left:893px;top:746.5px;width:375px;height:5px;background:linear-gradient(180deg,rgba(0,0,0,0),rgba(0,0,0,.03) 40%,rgba(0,0,0,.085) 80%,rgba(0,0,0,.095));"></div>
<div class="r" style="left:1285px;top:746.5px;width:223px;height:5px;background:linear-gradient(180deg,rgba(0,0,0,0),rgba(0,0,0,.03) 40%,rgba(0,0,0,.085) 80%,rgba(0,0,0,.095));"></div>
<div class="r" style="left:1526px;top:746.5px;width:232px;height:5px;background:linear-gradient(180deg,rgba(0,0,0,0),rgba(0,0,0,.03) 40%,rgba(0,0,0,.085) 80%,rgba(0,0,0,.095));"></div>
<div class="r" style="left:125px;top:770.55px;width:295px;height:5px;background:linear-gradient(180deg,rgba(0,0,0,0),rgba(0,0,0,.03) 40%,rgba(0,0,0,.085) 80%,rgba(0,0,0,.095));"></div>
<div class="r" style="left:425px;top:770.55px;width:451px;height:5px;background:linear-gradient(180deg,rgba(0,0,0,0),rgba(0,0,0,.03) 40%,rgba(0,0,0,.085) 80%,rgba(0,0,0,.095));"></div>
<div class="r" style="left:893px;top:770.55px;width:375px;height:5px;background:linear-gradient(180deg,rgba(0,0,0,0),rgba(0,0,0,.03) 40%,rgba(0,0,0,.085) 80%,rgba(0,0,0,.095));"></div>
<div class="r" style="left:1285px;top:770.55px;width:223px;height:5px;background:linear-gradient(180deg,rgba(0,0,0,0),rgba(0,0,0,.03) 40%,rgba(0,0,0,.085) 80%,rgba(0,0,0,.095));"></div>
<div class="r" style="left:1526px;top:770.55px;width:232px;height:5px;background:linear-gradient(180deg,rgba(0,0,0,0),rgba(0,0,0,.03) 40%,rgba(0,0,0,.085) 80%,rgba(0,0,0,.095));"></div>
<div class="r" style="left:125px;top:794.6px;width:295px;height:5px;background:linear-gradient(180deg,rgba(0,0,0,0),rgba(0,0,0,.03) 40%,rgba(0,0,0,.085) 80%,rgba(0,0,0,.095));"></div>
<div class="r" style="left:425px;top:794.6px;width:451px;height:5px;background:linear-gradient(180deg,rgba(0,0,0,0),rgba(0,0,0,.03) 40%,rgba(0,0,0,.085) 80%,rgba(0,0,0,.095));"></div>
<div class="r" style="left:893px;top:794.6px;width:375px;height:5px;background:linear-gradient(180deg,rgba(0,0,0,0),rgba(0,0,0,.03) 40%,rgba(0,0,0,.085) 80%,rgba(0,0,0,.095));"></div>
<div class="r" style="left:1285px;top:794.6px;width:223px;height:5px;background:linear-gradient(180deg,rgba(0,0,0,0),rgba(0,0,0,.03) 40%,rgba(0,0,0,.085) 80%,rgba(0,0,0,.095));"></div>
<div class="r" style="left:1526px;top:794.6px;width:232px;height:5px;background:linear-gradient(180deg,rgba(0,0,0,0),rgba(0,0,0,.03) 40%,rgba(0,0,0,.085) 80%,rgba(0,0,0,.095));"></div>
<div class="r" style="left:125px;top:818.65px;width:295px;height:5px;background:linear-gradient(180deg,rgba(0,0,0,0),rgba(0,0,0,.03) 40%,rgba(0,0,0,.085) 80%,rgba(0,0,0,.095));"></div>
<div class="r" style="left:425px;top:818.65px;width:451px;height:5px;background:linear-gradient(180deg,rgba(0,0,0,0),rgba(0,0,0,.03) 40%,rgba(0,0,0,.085) 80%,rgba(0,0,0,.095));"></div>
<div class="r" style="left:893px;top:818.65px;width:375px;height:5px;background:linear-gradient(180deg,rgba(0,0,0,0),rgba(0,0,0,.03) 40%,rgba(0,0,0,.085) 80%,rgba(0,0,0,.095));"></div>
<div class="r" style="left:1285px;top:818.65px;width:223px;height:5px;background:linear-gradient(180deg,rgba(0,0,0,0),rgba(0,0,0,.03) 40%,rgba(0,0,0,.085) 80%,rgba(0,0,0,.095));"></div>
<div class="r" style="left:1526px;top:818.65px;width:232px;height:5px;background:linear-gradient(180deg,rgba(0,0,0,0),rgba(0,0,0,.03) 40%,rgba(0,0,0,.085) 80%,rgba(0,0,0,.095));"></div>
<div class="r" style="left:125px;top:842.7px;width:295px;height:5px;background:linear-gradient(180deg,rgba(0,0,0,0),rgba(0,0,0,.03) 40%,rgba(0,0,0,.085) 80%,rgba(0,0,0,.095));"></div>
<div class="r" style="left:425px;top:842.7px;width:451px;height:5px;background:linear-gradient(180deg,rgba(0,0,0,0),rgba(0,0,0,.03) 40%,rgba(0,0,0,.085) 80%,rgba(0,0,0,.095));"></div>
<div class="r" style="left:893px;top:842.7px;width:375px;height:5px;background:linear-gradient(180deg,rgba(0,0,0,0),rgba(0,0,0,.03) 40%,rgba(0,0,0,.085) 80%,rgba(0,0,0,.095));"></div>
<div class="r" style="left:1285px;top:842.7px;width:223px;height:5px;background:linear-gradient(180deg,rgba(0,0,0,0),rgba(0,0,0,.03) 40%,rgba(0,0,0,.085) 80%,rgba(0,0,0,.095));"></div>
<div class="r" style="left:1526px;top:842.7px;width:232px;height:5px;background:linear-gradient(180deg,rgba(0,0,0,0),rgba(0,0,0,.03) 40%,rgba(0,0,0,.085) 80%,rgba(0,0,0,.095));"></div>
<div class="r" style="left:125px;top:866.75px;width:295px;height:5px;background:linear-gradient(180deg,rgba(0,0,0,0),rgba(0,0,0,.03) 40%,rgba(0,0,0,.085) 80%,rgba(0,0,0,.095));"></div>
<div class="r" style="left:425px;top:866.75px;width:451px;height:5px;background:linear-gradient(180deg,rgba(0,0,0,0),rgba(0,0,0,.03) 40%,rgba(0,0,0,.085) 80%,rgba(0,0,0,.095));"></div>
<div class="r" style="left:893px;top:866.75px;width:375px;height:5px;background:linear-gradient(180deg,rgba(0,0,0,0),rgba(0,0,0,.03) 40%,rgba(0,0,0,.085) 80%,rgba(0,0,0,.095));"></div>
<div class="r" style="left:1285px;top:866.75px;width:223px;height:5px;background:linear-gradient(180deg,rgba(0,0,0,0),rgba(0,0,0,.03) 40%,rgba(0,0,0,.085) 80%,rgba(0,0,0,.095));"></div>
<div class="r" style="left:1526px;top:866.75px;width:232px;height:5px;background:linear-gradient(180deg,rgba(0,0,0,0),rgba(0,0,0,.03) 40%,rgba(0,0,0,.085) 80%,rgba(0,0,0,.095));"></div>
<div class="r" style="left:125px;top:890.8px;width:295px;height:5px;background:linear-gradient(180deg,rgba(0,0,0,0),rgba(0,0,0,.03) 40%,rgba(0,0,0,.085) 80%,rgba(0,0,0,.095));"></div>
<div class="r" style="left:425px;top:890.8px;width:451px;height:5px;background:linear-gradient(180deg,rgba(0,0,0,0),rgba(0,0,0,.03) 40%,rgba(0,0,0,.085) 80%,rgba(0,0,0,.095));"></div>
<div class="r" style="left:893px;top:890.8px;width:375px;height:5px;background:linear-gradient(180deg,rgba(0,0,0,0),rgba(0,0,0,.03) 40%,rgba(0,0,0,.085) 80%,rgba(0,0,0,.095));"></div>
<div class="r" style="left:1285px;top:890.8px;width:223px;height:5px;background:linear-gradient(180deg,rgba(0,0,0,0),rgba(0,0,0,.03) 40%,rgba(0,0,0,.085) 80%,rgba(0,0,0,.095));"></div>
<div class="r" style="left:1526px;top:890.8px;width:232px;height:5px;background:linear-gradient(180deg,rgba(0,0,0,0),rgba(0,0,0,.03) 40%,rgba(0,0,0,.085) 80%,rgba(0,0,0,.095));"></div>
<div class="r" style="left:125px;top:914.85px;width:295px;height:5px;background:linear-gradient(180deg,rgba(0,0,0,0),rgba(0,0,0,.03) 40%,rgba(0,0,0,.085) 80%,rgba(0,0,0,.095));"></div>
<div class="r" style="left:425px;top:914.85px;width:451px;height:5px;background:linear-gradient(180deg,rgba(0,0,0,0),rgba(0,0,0,.03) 40%,rgba(0,0,0,.085) 80%,rgba(0,0,0,.095));"></div>
<div class="r" style="left:893px;top:914.85px;width:375px;height:5px;background:linear-gradient(180deg,rgba(0,0,0,0),rgba(0,0,0,.03) 40%,rgba(0,0,0,.085) 80%,rgba(0,0,0,.095));"></div>
<div class="r" style="left:1285px;top:914.85px;width:223px;height:5px;background:linear-gradient(180deg,rgba(0,0,0,0),rgba(0,0,0,.03) 40%,rgba(0,0,0,.085) 80%,rgba(0,0,0,.095));"></div>
<div class="r" style="left:1526px;top:914.85px;width:232px;height:5px;background:linear-gradient(180deg,rgba(0,0,0,0),rgba(0,0,0,.03) 40%,rgba(0,0,0,.085) 80%,rgba(0,0,0,.095));"></div>
<div class="r" style="left:125px;top:938.9px;width:295px;height:5px;background:linear-gradient(180deg,rgba(0,0,0,0),rgba(0,0,0,.03) 40%,rgba(0,0,0,.085) 80%,rgba(0,0,0,.095));"></div>
<div class="r" style="left:425px;top:938.9px;width:451px;height:5px;background:linear-gradient(180deg,rgba(0,0,0,0),rgba(0,0,0,.03) 40%,rgba(0,0,0,.085) 80%,rgba(0,0,0,.095));"></div>
<div class="r" style="left:893px;top:938.9px;width:375px;height:5px;background:linear-gradient(180deg,rgba(0,0,0,0),rgba(0,0,0,.03) 40%,rgba(0,0,0,.085) 80%,rgba(0,0,0,.095));"></div>
<div class="r" style="left:1285px;top:938.9px;width:223px;height:5px;background:linear-gradient(180deg,rgba(0,0,0,0),rgba(0,0,0,.03) 40%,rgba(0,0,0,.085) 80%,rgba(0,0,0,.095));"></div>
<div class="r" style="left:1526px;top:938.9px;width:232px;height:5px;background:linear-gradient(180deg,rgba(0,0,0,0),rgba(0,0,0,.03) 40%,rgba(0,0,0,.085) 80%,rgba(0,0,0,.095));"></div>
<div class="r" style="left:125px;top:962.95px;width:295px;height:5px;background:linear-gradient(180deg,rgba(0,0,0,0),rgba(0,0,0,.03) 40%,rgba(0,0,0,.085) 80%,rgba(0,0,0,.095));"></div>
<div class="r" style="left:425px;top:962.95px;width:451px;height:5px;background:linear-gradient(180deg,rgba(0,0,0,0),rgba(0,0,0,.03) 40%,rgba(0,0,0,.085) 80%,rgba(0,0,0,.095));"></div>
<div class="r" style="left:893px;top:962.95px;width:375px;height:5px;background:linear-gradient(180deg,rgba(0,0,0,0),rgba(0,0,0,.03) 40%,rgba(0,0,0,.085) 80%,rgba(0,0,0,.095));"></div>
<div class="r" style="left:1285px;top:962.95px;width:223px;height:5px;background:linear-gradient(180deg,rgba(0,0,0,0),rgba(0,0,0,.03) 40%,rgba(0,0,0,.085) 80%,rgba(0,0,0,.095));"></div>
<div class="r" style="left:1526px;top:962.95px;width:232px;height:5px;background:linear-gradient(180deg,rgba(0,0,0,0),rgba(0,0,0,.03) 40%,rgba(0,0,0,.085) 80%,rgba(0,0,0,.095));"></div>
<div class="r" style="left:125px;top:987.0px;width:295px;height:5px;background:linear-gradient(180deg,rgba(0,0,0,0),rgba(0,0,0,.03) 40%,rgba(0,0,0,.085) 80%,rgba(0,0,0,.095));"></div>
<div class="r" style="left:425px;top:987.0px;width:451px;height:5px;background:linear-gradient(180deg,rgba(0,0,0,0),rgba(0,0,0,.03) 40%,rgba(0,0,0,.085) 80%,rgba(0,0,0,.095));"></div>
<div class="r" style="left:893px;top:987.0px;width:375px;height:5px;background:linear-gradient(180deg,rgba(0,0,0,0),rgba(0,0,0,.03) 40%,rgba(0,0,0,.085) 80%,rgba(0,0,0,.095));"></div>
<div class="r" style="left:1285px;top:987.0px;width:223px;height:5px;background:linear-gradient(180deg,rgba(0,0,0,0),rgba(0,0,0,.03) 40%,rgba(0,0,0,.085) 80%,rgba(0,0,0,.095));"></div>
<div class="r" style="left:1526px;top:987.0px;width:232px;height:5px;background:linear-gradient(180deg,rgba(0,0,0,0),rgba(0,0,0,.03) 40%,rgba(0,0,0,.085) 80%,rgba(0,0,0,.095));"></div>
<div class="t" style="left:125.35px;top:594.36px;font-size:18px;line-height:18px;font-weight:bold;color:#161616;transform:scaleX(1.0500);">Expenditures</div>
<div class="t" style="left:471.57px;top:661.66px;font-size:14.7px;line-height:14.7px;font-weight:bold;color:#161616;transform:scaleX(1.0260);">FY26 Adopted</div>
<div class="t" style="left:594.69px;top:661.66px;font-size:14.7px;line-height:14.7px;font-weight:bold;color:#161616;transform:scaleX(1.0056);">FY26 Adjustments</div>
<div class="t" style="left:782.03px;top:661.66px;font-size:14.7px;line-height:14.7px;font-weight:bold;color:#161616;transform:scaleX(0.9713);">FY26 Revised</div>
<div class="t" style="left:914.18px;top:639.46px;font-size:14.7px;line-height:14.7px;font-weight:bold;color:#161616;transform:scaleX(1.0209);">FY25 Unaudited Actual</div>
<div class="t" style="left:935.57px;top:661.66px;font-size:14.7px;line-height:14.7px;font-weight:bold;color:#161616;transform:scaleX(1.0287);">(YTD as of Month 4)</div>
<div class="t" style="left:1104.28px;top:639.46px;font-size:14.7px;line-height:14.7px;font-weight:bold;color:#161616;transform:scaleX(1.0203);">FY26 Unaudited Actual</div>
<div class="t" style="left:1125.57px;top:661.66px;font-size:14.7px;line-height:14.7px;font-weight:bold;color:#161616;transform:scaleX(1.0287);">(YTD as of Month 4)</div>
<div class="t" style="left:1313.68px;top:603.96px;font-size:14.7px;line-height:14.7px;font-weight:bold;color:#161616;transform:scaleX(1.0178);">Compared to Prior Year</div>
<div class="t" style="left:1318.70px;top:639.66px;font-size:14.7px;line-height:14.7px;font-weight:bold;color:#161616;transform:scaleX(1.0347);">$ Variance</div>
<div class="t" style="left:1302.50px;top:661.66px;font-size:14.7px;line-height:14.7px;font-weight:bold;color:#161616;transform:scaleX(1.0671);">over/(under)</div>
<div class="t" style="left:1429.00px;top:639.66px;font-size:14.7px;line-height:14.7px;font-weight:bold;color:#161616;transform:scaleX(1.0130);">% Variance</div>
<div class="t" style="left:1416.20px;top:661.66px;font-size:14.7px;line-height:14.7px;font-weight:bold;color:#161616;transform:scaleX(1.0682);">over/(under)</div>
<div class="t" style="left:1550.47px;top:592.66px;font-size:14.7px;line-height:14.7px;font-weight:bold;color:#161616;transform:scaleX(1.0254);">Compared to Current Year</div>
<div class="t" style="left:1587.02px;top:615.16px;font-size:14.7px;line-height:14.7px;font-weight:bold;color:#161616;transform:scaleX(0.9845);">Revised Budget</div>
<div class="t" style="left:1569.80px;top:660.96px;font-size:14.7px;line-height:14.7px;font-weight:bold;color:#161616;transform:scaleX(1.0153);">$ Variance</div>
<div class="t" style="left:1680.20px;top:660.96px;font-size:14.7px;line-height:14.7px;font-weight:bold;color:#161616;transform:scaleX(0.9948);">% Variance</div>
<div class="t n" style="left:124.90px;top:682.76px;font-size:15.4px;line-height:15.4px;color:#161616;transform:scaleX(1.0317);">4050 Non-Departmental</div>
<div class="t n" style="left:519.71px;top:682.76px;font-size:15.4px;line-height:15.4px;color:#161616;transform:scaleX(0.9850);">80,000</div>
<div class="t n" style="left:695.08px;top:682.76px;font-size:15.4px;line-height:15.4px;color:#161616;transform:scaleX(0.9850);">-</div>
<div class="t n" style="left:822.91px;top:682.76px;font-size:15.4px;line-height:15.4px;color:#161616;transform:scaleX(0.9850);">80,000</div>
<div class="t n" style="left:1024.90px;top:682.76px;font-size:15.4px;line-height:15.4px;color:#161616;transform:scaleX(0.9850);">76,442</div>
<div class="t n" style="left:1214.70px;top:682.76px;font-size:15.4px;line-height:15.4px;color:#161616;transform:scaleX(0.9850);">79,673</div>
<div class="t n" style="left:1349.57px;top:682.76px;font-size:15.4px;line-height:15.4px;color:#161616;transform:scaleX(0.9850);">3,231</div>
<div class="t n" style="left:1462.86px;top:682.76px;font-size:15.4px;line-height:15.4px;color:#161616;transform:scaleX(0.9850);">4.23%</div>
<div class="t n" style="left:1613.58px;top:682.76px;font-size:15.4px;line-height:15.4px;color:#161616;transform:scaleX(0.9850);">327</div>
<div class="t n" style="left:1713.66px;top:682.76px;font-size:15.4px;line-height:15.4px;color:#161616;transform:scaleX(0.9850);">99.6%</div>
<div class="t n" style="left:124.90px;top:706.76px;font-size:15.4px;line-height:15.4px;color:#161616;transform:scaleX(1.0176);">4111 First Selectman</div>
<div class="t n" style="left:511.82px;top:706.76px;font-size:15.4px;line-height:15.4px;color:#161616;transform:scaleX(0.9850);">677,798</div>
<div class="t n" style="left:695.08px;top:706.76px;font-size:15.4px;line-height:15.4px;color:#161616;transform:scaleX(0.9850);">-</div>
<div class="t n" style="left:815.03px;top:706.76px;font-size:15.4px;line-height:15.4px;color:#161616;transform:scaleX(0.9850);">677,798</div>
<div class="t n" style="left:1017.03px;top:706.76px;font-size:15.4px;line-height:15.4px;color:#161616;transform:scaleX(0.9850);">187,150</div>
<div class="t n" style="left:1206.83px;top:706.76px;font-size:15.4px;line-height:15.4px;color:#161616;transform:scaleX(0.9850);">220,855</div>
<div class="t n" style="left:1340.70px;top:706.76px;font-size:15.4px;line-height:15.4px;color:#161616;transform:scaleX(0.9850);">33,706</div>
<div class="t n" style="left:1454.98px;top:706.76px;font-size:15.4px;line-height:15.4px;color:#161616;transform:scaleX(0.9850);">18.01%</div>
<div class="t n" style="left:1584.03px;top:706.76px;font-size:15.4px;line-height:15.4px;color:#161616;transform:scaleX(0.9850);">456,943</div>
<div class="t n" style="left:1713.66px;top:706.76px;font-size:15.4px;line-height:15.4px;color:#161616;transform:scaleX(0.9850);">32.6%</div>
<div class="t n" style="left:124.90px;top:730.76px;font-size:15.4px;line-height:15.4px;color:#161616;transform:scaleX(0.9957);">4117 Finance</div>
<div class="t n" style="left:499.02px;top:730.76px;font-size:15.4px;line-height:15.4px;color:#161616;transform:scaleX(0.9850);">1,209,906</div>
<div class="t n" style="left:695.08px;top:730.76px;font-size:15.4px;line-height:15.4px;color:#161616;transform:scaleX(0.9850);">-</div>
<div class="t n" style="left:802.22px;top:730.76px;font-size:15.4px;line-height:15.4px;color:#161616;transform:scaleX(0.9850);">1,209,906</div>
<div class="t n" style="left:1017.03px;top:730.76px;font-size:15.4px;line-height:15.4px;color:#161616;transform:scaleX(0.9850);">557,456</div>
<div class="t n" style="left:1206.83px;top:730.76px;font-size:15.4px;line-height:15.4px;color:#161616;transform:scaleX(0.9850);">423,022</div>
<div class="t n" style="left:1329.57px;top:730.76px;font-size:15.4px;line-height:15.4px;color:#161616;transform:scaleX(0.9850);">(134,434)</div>
<div class="t n" style="left:1450.06px;top:730.76px;font-size:15.4px;line-height:15.4px;color:#161616;transform:scaleX(0.9850);">-24.12%</div>
<div class="t n" style="left:1583.04px;top:730.76px;font-size:15.4px;line-height:15.4px;color:#161616;transform:scaleX(0.9850);">786,884</div>
<div class="t n" style="left:1713.66px;top:730.76px;font-size:15.4px;line-height:15.4px;color:#161616;transform:scaleX(0.9850);">35.0%</div>
<div class="t n" style="left:124.90px;top:754.76px;font-size:15.4px;line-height:15.4px;color:#161616;transform:scaleX(0.9713);">4131 Tax Assessor</div>
<div class="t n" style="left:511.82px;top:754.76px;font-size:15.4px;line-height:15.4px;color:#161616;transform:scaleX(0.9850);">425,451</div>
<div class="t n" style="left:695.08px;top:754.76px;font-size:15.4px;line-height:15.4px;color:#161616;transform:scaleX(0.9850);">-</div>
<div class="t n" style="left:815.03px;top:754.76px;font-size:15.4px;line-height:15.4px;color:#161616;transform:scaleX(0.9850);">425,451</div>
<div class="t n" style="left:1017.03px;top:754.76px;font-size:15.4px;line-height:15.4px;color:#161616;transform:scaleX(0.9850);">122,196</div>
<div class="t n" style="left:1206.83px;top:754.76px;font-size:15.4px;line-height:15.4px;color:#161616;transform:scaleX(0.9850);">150,138</div>
<div class="t n" style="left:1340.70px;top:754.76px;font-size:15.4px;line-height:15.4px;color:#161616;transform:scaleX(0.9850);">27,942</div>
<div class="t n" style="left:1454.98px;top:754.76px;font-size:15.4px;line-height:15.4px;color:#161616;transform:scaleX(0.9850);">22.87%</div>
<div class="t n" style="left:1584.03px;top:754.76px;font-size:15.4px;line-height:15.4px;color:#161616;transform:scaleX(0.9850);">275,313</div>
<div class="t n" style="left:1713.66px;top:754.76px;font-size:15.4px;line-height:15.4px;color:#161616;transform:scaleX(0.9850);">35.3%</div>
<div class="t n" style="left:124.90px;top:778.76px;font-size:15.4px;line-height:15.4px;color:#161616;transform:scaleX(1.0126);">4135 Tax Collector</div>
<div class="t n" style="left:511.82px;top:778.76px;font-size:15.4px;line-height:15.4px;color:#161616;transform:scaleX(0.9850);">188,688</div>
<div class="t n" style="left:695.08px;top:778.76px;font-size:15.4px;line-height:15.4px;color:#161616;transform:scaleX(0.9850);">-</div>
<div class="t n" style="left:815.03px;top:778.76px;font-size:15.4px;line-height:15.4px;color:#161616;transform:scaleX(0.9850);">188,688</div>
<div class="t n" style="left:1024.90px;top:778.76px;font-size:15.4px;line-height:15.4px;color:#161616;transform:scaleX(0.9850);">99,343</div>
<div class="t n" style="left:1214.70px;top:778.76px;font-size:15.4px;line-height:15.4px;color:#161616;transform:scaleX(0.9850);">89,709</div>
<div class="t n" style="left:1346.32px;top:778.76px;font-size:15.4px;line-height:15.4px;color:#161616;transform:scaleX(0.9850);">(9,634)</div>
<div class="t n" style="left:1457.93px;top:778.76px;font-size:15.4px;line-height:15.4px;color:#161616;transform:scaleX(0.9850);">-9.70%</div>
<div class="t n" style="left:1591.90px;top:778.76px;font-size:15.4px;line-height:15.4px;color:#161616;transform:scaleX(0.9850);">98,979</div>
<div class="t n" style="left:1713.66px;top:778.76px;font-size:15.4px;line-height:15.4px;color:#161616;transform:scaleX(0.9850);">47.5%</div>
<div class="t n" style="left:124.90px;top:802.76px;font-size:15.4px;line-height:15.4px;color:#161616;transform:scaleX(0.9645);">4139 Legal</div>
<div class="t n" style="left:511.82px;top:802.76px;font-size:15.4px;line-height:15.4px;color:#161616;transform:scaleX(0.9850);">425,000</div>
<div class="t n" style="left:695.08px;top:802.76px;font-size:15.4px;line-height:15.4px;color:#161616;transform:scaleX(0.9850);">-</div>
<div class="t n" style="left:815.03px;top:802.76px;font-size:15.4px;line-height:15.4px;color:#161616;transform:scaleX(0.9850);">425,000</div>
<div class="t n" style="left:1024.90px;top:802.76px;font-size:15.4px;line-height:15.4px;color:#161616;transform:scaleX(0.9850);">94,138</div>
<div class="t n" style="left:1206.83px;top:802.76px;font-size:15.4px;line-height:15.4px;color:#161616;transform:scaleX(0.9850);">120,425</div>
<div class="t n" style="left:1340.70px;top:802.76px;font-size:15.4px;line-height:15.4px;color:#161616;transform:scaleX(0.9850);">26,287</div>
<div class="t n" style="left:1454.98px;top:802.76px;font-size:15.4px;line-height:15.4px;color:#161616;transform:scaleX(0.9850);">27.92%</div>
<div class="t n" style="left:1584.03px;top:802.76px;font-size:15.4px;line-height:15.4px;color:#161616;transform:scaleX(0.9850);">304,575</div>
<div class="t n" style="left:1713.66px;top:802.76px;font-size:15.4px;line-height:15.4px;color:#161616;transform:scaleX(0.9850);">28.3%</div>
<div class="t n" style="left:124.90px;top:826.76px;font-size:15.4px;line-height:15.4px;color:#161616;transform:scaleX(0.9837);">4141 Human Resources</div>
<div class="t n" style="left:510.84px;top:826.76px;font-size:15.4px;line-height:15.4px;color:#161616;transform:scaleX(0.9850);">474,884</div>
<div class="t n" style="left:695.08px;top:826.76px;font-size:15.4px;line-height:15.4px;color:#161616;transform:scaleX(0.9850);">-</div>
<div class="t n" style="left:814.04px;top:826.76px;font-size:15.4px;line-height:15.4px;color:#161616;transform:scaleX(0.9850);">474,884</div>
<div class="t n" style="left:1017.03px;top:826.76px;font-size:15.4px;line-height:15.4px;color:#161616;transform:scaleX(0.9850);">142,787</div>
<div class="t n" style="left:1206.83px;top:826.76px;font-size:15.4px;line-height:15.4px;color:#161616;transform:scaleX(0.9850);">152,685</div>
<div class="t n" style="left:1349.57px;top:826.76px;font-size:15.4px;line-height:15.4px;color:#161616;transform:scaleX(0.9850);">9,898</div>
<div class="t n" style="left:1462.86px;top:826.76px;font-size:15.4px;line-height:15.4px;color:#161616;transform:scaleX(0.9850);">6.93%</div>
<div class="t n" style="left:1584.03px;top:826.76px;font-size:15.4px;line-height:15.4px;color:#161616;transform:scaleX(0.9850);">322,199</div>
<div class="t n" style="left:1713.66px;top:826.76px;font-size:15.4px;line-height:15.4px;color:#161616;transform:scaleX(0.9850);">32.2%</div>
<div class="t n" style="left:124.90px;top:850.76px;font-size:15.4px;line-height:15.4px;color:#161616;transform:scaleX(1.0389);">4143 Information Technology</div>
<div class="t n" style="left:511.82px;top:850.76px;font-size:15.4px;line-height:15.4px;color:#161616;transform:scaleX(0.9850);">756,925</div>
<div class="t n" style="left:695.08px;top:850.76px;font-size:15.4px;line-height:15.4px;color:#161616;transform:scaleX(0.9850);">-</div>
<div class="t n" style="left:815.03px;top:850.76px;font-size:15.4px;line-height:15.4px;color:#161616;transform:scaleX(0.9850);">756,925</div>
<div class="t n" style="left:1017.03px;top:850.76px;font-size:15.4px;line-height:15.4px;color:#161616;transform:scaleX(0.9850);">333,365</div>
<div class="t n" style="left:1206.83px;top:850.76px;font-size:15.4px;line-height:15.4px;color:#161616;transform:scaleX(0.9850);">407,880</div>
<div class="t n" style="left:1340.70px;top:850.76px;font-size:15.4px;line-height:15.4px;color:#161616;transform:scaleX(0.9850);">74,515</div>
<div class="t n" style="left:1454.98px;top:850.76px;font-size:15.4px;line-height:15.4px;color:#161616;transform:scaleX(0.9850);">22.35%</div>
<div class="t n" style="left:1584.03px;top:850.76px;font-size:15.4px;line-height:15.4px;color:#161616;transform:scaleX(0.9850);">349,045</div>
<div class="t n" style="left:1713.66px;top:850.76px;font-size:15.4px;line-height:15.4px;color:#161616;transform:scaleX(0.9850);">53.9%</div>
<div class="t n" style="left:124.90px;top:874.76px;font-size:15.4px;line-height:15.4px;color:#161616;transform:scaleX(1.0061);">4147 Town Clerk</div>
<div class="t n" style="left:511.82px;top:874.76px;font-size:15.4px;line-height:15.4px;color:#161616;transform:scaleX(0.9850);">520,158</div>
<div class="t n" style="left:695.08px;top:874.76px;font-size:15.4px;line-height:15.4px;color:#161616;transform:scaleX(0.9850);">-</div>
<div class="t n" style="left:815.03px;top:874.76px;font-size:15.4px;line-height:15.4px;color:#161616;transform:scaleX(0.9850);">520,158</div>
<div class="t n" style="left:1017.03px;top:874.76px;font-size:15.4px;line-height:15.4px;color:#161616;transform:scaleX(0.9850);">154,187</div>
<div class="t n" style="left:1206.83px;top:874.76px;font-size:15.4px;line-height:15.4px;color:#161616;transform:scaleX(0.9850);">137,342</div>
<div class="t n" style="left:1337.45px;top:874.76px;font-size:15.4px;line-height:15.4px;color:#161616;transform:scaleX(0.9850);">(16,845)</div>
<div class="t n" style="left:1450.06px;top:874.76px;font-size:15.4px;line-height:15.4px;color:#161616;transform:scaleX(0.9850);">-10.92%</div>
<div class="t n" style="left:1584.03px;top:874.76px;font-size:15.4px;line-height:15.4px;color:#161616;transform:scaleX(0.9850);">382,816</div>
<div class="t n" style="left:1713.66px;top:874.76px;font-size:15.4px;line-height:15.4px;color:#161616;transform:scaleX(0.9850);">26.4%</div>
<div class="t n" style="left:124.90px;top:898.76px;font-size:15.4px;line-height:15.4px;color:#161616;transform:scaleX(1.0120);">4149 Registrar of Voters</div>
<div class="t n" style="left:511.82px;top:898.76px;font-size:15.4px;line-height:15.4px;color:#161616;transform:scaleX(0.9850);">200,461</div>
<div class="t n" style="left:695.08px;top:898.76px;font-size:15.4px;line-height:15.4px;color:#161616;transform:scaleX(0.9850);">-</div>
<div class="t n" style="left:815.03px;top:898.76px;font-size:15.4px;line-height:15.4px;color:#161616;transform:scaleX(0.9850);">200,461</div>
<div class="t n" style="left:1024.90px;top:898.76px;font-size:15.4px;line-height:15.4px;color:#161616;transform:scaleX(0.9850);">66,467</div>
<div class="t n" style="left:1214.70px;top:898.76px;font-size:15.4px;line-height:15.4px;color:#161616;transform:scaleX(0.9850);">42,401</div>
<div class="t n" style="left:1337.45px;top:898.76px;font-size:15.4px;line-height:15.4px;color:#161616;transform:scaleX(0.9850);">(24,067)</div>
<div class="t n" style="left:1450.06px;top:898.76px;font-size:15.4px;line-height:15.4px;color:#161616;transform:scaleX(0.9850);">-36.21%</div>
<div class="t n" style="left:1584.03px;top:898.76px;font-size:15.4px;line-height:15.4px;color:#161616;transform:scaleX(0.9850);">158,060</div>
<div class="t n" style="left:1713.66px;top:898.76px;font-size:15.4px;line-height:15.4px;color:#161616;transform:scaleX(0.9850);">21.2%</div>
<div class="t n" style="left:124.90px;top:922.76px;font-size:15.4px;line-height:15.4px;color:#161616;transform:scaleX(1.0161);">4151 Building</div>
<div class="t n" style="left:511.82px;top:922.76px;font-size:15.4px;line-height:15.4px;color:#161616;transform:scaleX(0.9850);">543,813</div>
<div class="t n" style="left:695.08px;top:922.76px;font-size:15.4px;line-height:15.4px;color:#161616;transform:scaleX(0.9850);">-</div>
<div class="t n" style="left:815.03px;top:922.76px;font-size:15.4px;line-height:15.4px;color:#161616;transform:scaleX(0.9850);">543,813</div>
<div class="t n" style="left:1017.03px;top:922.76px;font-size:15.4px;line-height:15.4px;color:#161616;transform:scaleX(0.9850);">156,146</div>
<div class="t n" style="left:1207.81px;top:922.76px;font-size:15.4px;line-height:15.4px;color:#161616;transform:scaleX(0.9850);">165,711</div>
<div class="t n" style="left:1349.57px;top:922.76px;font-size:15.4px;line-height:15.4px;color:#161616;transform:scaleX(0.9850);">9,565</div>
<div class="t n" style="left:1462.86px;top:922.76px;font-size:15.4px;line-height:15.4px;color:#161616;transform:scaleX(0.9850);">6.13%</div>
<div class="t n" style="left:1584.03px;top:922.76px;font-size:15.4px;line-height:15.4px;color:#161616;transform:scaleX(0.9850);">378,102</div>
<div class="t n" style="left:1713.66px;top:922.76px;font-size:15.4px;line-height:15.4px;color:#161616;transform:scaleX(0.9850);">30.5%</div>
<div class="t n" style="left:124.90px;top:946.76px;font-size:15.4px;line-height:15.4px;color:#161616;transform:scaleX(0.9731);">4155 Land Use</div>
<div class="t n" style="left:512.81px;top:946.76px;font-size:15.4px;line-height:15.4px;color:#161616;transform:scaleX(0.9850);">611,445</div>
<div class="t n" style="left:695.08px;top:946.76px;font-size:15.4px;line-height:15.4px;color:#161616;transform:scaleX(0.9850);">-</div>
<div class="t n" style="left:816.01px;top:946.76px;font-size:15.4px;line-height:15.4px;color:#161616;transform:scaleX(0.9850);">611,445</div>
<div class="t n" style="left:1017.03px;top:946.76px;font-size:15.4px;line-height:15.4px;color:#161616;transform:scaleX(0.9850);">171,102</div>
<div class="t n" style="left:1206.83px;top:946.76px;font-size:15.4px;line-height:15.4px;color:#161616;transform:scaleX(0.9850);">216,805</div>
<div class="t n" style="left:1340.70px;top:946.76px;font-size:15.4px;line-height:15.4px;color:#161616;transform:scaleX(0.9850);">45,703</div>
<div class="t n" style="left:1454.98px;top:946.76px;font-size:15.4px;line-height:15.4px;color:#161616;transform:scaleX(0.9850);">26.71%</div>
<div class="t n" style="left:1584.03px;top:946.76px;font-size:15.4px;line-height:15.4px;color:#161616;transform:scaleX(0.9850);">394,640</div>
<div class="t n" style="left:1713.66px;top:946.76px;font-size:15.4px;line-height:15.4px;color:#161616;transform:scaleX(0.9850);">35.5%</div>
<div class="t n" style="left:124.90px;top:970.76px;font-size:15.4px;line-height:15.4px;color:#161616;transform:scaleX(1.0212);">4158 Health &amp; Security Benefits</div>
<div class="t n" style="left:499.02px;top:970.76px;font-size:15.4px;line-height:15.4px;color:#161616;transform:scaleX(0.9850);">7,661,730</div>
<div class="t n" style="left:695.08px;top:970.76px;font-size:15.4px;line-height:15.4px;color:#161616;transform:scaleX(0.9850);">-</div>
<div class="t n" style="left:802.22px;top:970.76px;font-size:15.4px;line-height:15.4px;color:#161616;transform:scaleX(0.9850);">7,661,730</div>
<div class="t n" style="left:1004.22px;top:970.76px;font-size:15.4px;line-height:15.4px;color:#161616;transform:scaleX(0.9850);">2,681,955</div>
<div class="t n" style="left:1194.02px;top:970.76px;font-size:15.4px;line-height:15.4px;color:#161616;transform:scaleX(0.9850);">3,059,343</div>
<div class="t n" style="left:1332.83px;top:970.76px;font-size:15.4px;line-height:15.4px;color:#161616;transform:scaleX(0.9850);">377,387</div>
<div class="t n" style="left:1454.98px;top:970.76px;font-size:15.4px;line-height:15.4px;color:#161616;transform:scaleX(0.9850);">14.07%</div>
<div class="t n" style="left:1571.22px;top:970.76px;font-size:15.4px;line-height:15.4px;color:#161616;transform:scaleX(0.9850);">4,602,387</div>
<div class="t n" style="left:1713.66px;top:970.76px;font-size:15.4px;line-height:15.4px;color:#161616;transform:scaleX(0.9850);">39.9%</div>
<div class="t n" style="left:124.90px;top:994.76px;font-size:15.4px;line-height:15.4px;color:#161616;transform:scaleX(1.0080);">4159 Insurance - Liability</div>
<div class="t n" style="left:498.03px;top:994.76px;font-size:15.4px;line-height:15.4px;color:#161616;transform:scaleX(0.9850);">1,573,294</div>
<div class="t n" style="left:695.08px;top:994.76px;font-size:15.4px;line-height:15.4px;color:#161616;transform:scaleX(0.9850);">-</div>
<div class="t n" style="left:801.24px;top:994.76px;font-size:15.4px;line-height:15.4px;color:#161616;transform:scaleX(0.9850);">1,573,294</div>
<div class="t n" style="left:1003.24px;top:994.76px;font-size:15.4px;line-height:15.4px;color:#161616;transform:scaleX(0.9850);">1,428,314</div>
<div class="t n" style="left:1194.02px;top:994.76px;font-size:15.4px;line-height:15.4px;color:#161616;transform:scaleX(0.9850);">1,468,825</div>
<div class="t n" style="left:1340.70px;top:994.76px;font-size:15.4px;line-height:15.4px;color:#161616;transform:scaleX(0.9850);">40,482</div>
<div class="t n" style="left:1462.86px;top:994.76px;font-size:15.4px;line-height:15.4px;color:#161616;transform:scaleX(0.9850);">2.86%</div>
<div class="t n" style="left:1584.03px;top:994.76px;font-size:15.4px;line-height:15.4px;color:#161616;transform:scaleX(0.9850);">109,448</div>
<div class="t n" style="left:1713.66px;top:994.76px;font-size:15.4px;line-height:15.4px;color:#161616;transform:scaleX(0.9850);">93.1%</div>
</div></div>

<!-- top bar -->
<div id="top"></div>
<!-- hamburger -->
<div class="r" style="left:18px;top:16px;width:19px;height:2px;background:#e0e0e0;border-radius:1px"></div>
<div class="r" style="left:18px;top:22px;width:19px;height:2px;background:#e0e0e0;border-radius:1px"></div>
<div class="r" style="left:18px;top:28px;width:19px;height:2px;background:#e0e0e0;border-radius:1px"></div>
<!-- home -->
<svg style="left:111px;top:11.5px" width="25" height="22" viewBox="0 0 25 22"><path d="M5 20.2 V12.3 H3.2 Q2.2 12.3 2.9 11.5 L11.6 3 Q12.5 2.2 13.4 3 L22.1 11.5 Q22.8 12.3 21.8 12.3 H20 V20.2 H14.6 V15.3 H10.4 V20.2 Z" fill="none" stroke="#ececec" stroke-width="2" stroke-linejoin="round"/></svg>
<!-- star -->
<div class="r" style="left:670px;top:8px;width:1px;height:31px;background:#4a4a4a"></div>
<div class="r" style="left:932px;top:8px;width:1px;height:31px;background:#4a4a4a"></div>
<div class="r" style="left:1194px;top:8px;width:1px;height:31px;background:#4a4a4a"></div>
<!-- create -->
<div class="r" style="left:1201px;top:8px;width:85px;height:30px;border:1.5px solid #6a6a6a;border-radius:5px"></div>
<svg style="left:1213px;top:17px" width="13" height="13" viewBox="0 0 13 13"><path d="M6.5 0.5 V12.5 M0.5 6.5 H12.5" stroke="#e6e6e6" stroke-width="1.8"/></svg>
<!-- cursor -->
<svg style="left:1471px;top:15px" width="12" height="18" viewBox="0 0 12 18"><path d="M0.5 0.5 V15 L4 11.5 L6.5 17 L8.5 16 L6 10.5 H10.5 Z" fill="#fff" stroke="#000" stroke-width="1"/></svg>
<!-- help -->
<svg style="left:1571px;top:12.5px" width="21" height="21" viewBox="0 0 21 21"><circle cx="10.5" cy="10.5" r="9.1" fill="none" stroke="#e6e6e6" stroke-width="1.9"/><path d="M8.2 8.6 C8.2 7.2 9.2 6.5 10.5 6.5 C11.9 6.5 12.8 7.3 12.8 8.5 C12.8 10.1 10.6 10.3 10.6 12.2" fill="none" stroke="#e6e6e6" stroke-width="2" stroke-linecap="round"/><circle cx="10.6" cy="14.9" r="1.25" fill="#e6e6e6"/></svg>
<!-- bell -->
<svg style="left:1611px;top:13px" width="20" height="22" viewBox="0 0 20 22"><path d="M3 16 C4.5 14 4.5 12 4.5 9 C4.5 5.5 7 3 10 3 C13 3 15.5 5.5 15.5 9 C15.5 12 15.5 14 17 16 Z M10 1 V3 M7.5 18 C7.5 20 12.5 20 12.5 18" fill="none" stroke="#e6e6e6" stroke-width="1.8" stroke-linejoin="round"/></svg>

<!-- toolbar -->
<div id="tb"></div>
<div class="r" style="left:149px;top:3px;width:260.5px;height:41px;background:#333;border-radius:5px 5px 0 0;box-shadow:1px 0 1px rgba(0,0,0,.35)"></div>
<svg style="left:162px;top:13px" width="22" height="20" viewBox="0 0 22 20"><path d="M11 1.8 L13.5 7.3 L19.5 7.9 L15 11.9 L16.3 17.8 L11 14.8 L5.7 17.8 L7 11.9 L2.5 7.9 L8.5 7.3 Z" fill="none" stroke="#dcdcdc" stroke-width="2.3" stroke-linejoin="round"/></svg>
<svg style="left:384px;top:17px" width="12" height="12" viewBox="0 0 12 12"><path d="M1 1 L11 11 M11 1 L1 11" stroke="#e0e0e0" stroke-width="1.8"/></svg>
<svg style="left:1597px;top:63px" width="20" height="20" viewBox="0 0 20 20"><circle cx="8" cy="8" r="6.5" fill="none" stroke="#e6e6e6" stroke-width="1.8"/><path d="M12.8 12.8 L18.5 18.5" stroke="#e6e6e6" stroke-width="2" stroke-linecap="round"/></svg>

<!-- vertical scrollbar -->
<div class="r" style="left:1840px;top:102px;width:18px;height:897px;background:#f7f7f7"></div>
<div class="r" style="left:1840px;top:200px;width:20px;height:22px;background:#efefef;border-bottom:1.6px solid #7a7a7a;border-right:2px solid #6a6a6a"></div>
<svg style="left:1844px;top:985px" width="10" height="6" viewBox="0 0 10 6"><path d="M0 0 H10 L5 6 Z" fill="#111"/></svg>

<!-- right sidebar -->
<div class="r" style="left:1860px;top:102px;width:60px;height:918px;background:#333"></div>
<div class="r" style="left:1860px;top:102px;width:3.5px;height:918px;background:#2b2b2b"></div>
<!-- bookmark -->
<svg style="left:1880px;top:173px" width="24" height="23" viewBox="0 0 24 23"><path d="M1.4 1.4 H14 V20.5 L7.7 15.8 L1.4 20.5 Z" fill="none" stroke="#e0e0e0" stroke-width="2" stroke-linejoin="round"/><path d="M16.5 4.8 H22.4 M16.5 8.6 H22.4 M16.5 12.2 H22.4" stroke="#e0e0e0" stroke-width="2"/></svg>
<!-- pages -->
<svg style="left:1881px;top:222px" width="22" height="23" viewBox="0 0 22 23"><path d="M3 17 V5 C3 2.8 4.5 1.5 6.5 1.5 H11" fill="none" stroke="#e0e0e0" stroke-width="1.9" stroke-linecap="round"/><path d="M7 6.5 H14.5 L19.5 11.5 V20 C19.5 21 19 21.5 18 21.5 H8.5 C7.5 21.5 7 21 7 20 Z" fill="none" stroke="#e0e0e0" stroke-width="1.9" stroke-linejoin="round"/><path d="M14.5 6.5 V11.5 H19.5" fill="none" stroke="#dedede" stroke-width="1.5"/></svg>
<!-- layers -->
<svg style="left:1880px;top:271px" width="22" height="22" viewBox="0 0 22 22"><path d="M11 1.5 L20 7.5 L11 13.5 L2 7.5 Z" fill="none" stroke="#e0e0e0" stroke-width="1.9" stroke-linejoin="round"/><path d="M4.5 11.5 L2 13.5 L11 19.8 L20 13.5 L17.5 11.5" fill="none" stroke="#e0e0e0" stroke-width="1.9" stroke-linejoin="round"/></svg>
<!-- page box -->
<div class="r" style="left:1869.5px;top:656.5px;width:40.5px;height:39.5px;background:#1d1d1d;border:1.5px solid #707070;border-radius:5px"></div>
<svg style="left:1885px;top:764px" width="14" height="9" viewBox="0 0 14 9"><path d="M1.5 7.5 L7 2 L12.5 7.5" fill="none" stroke="#ececec" stroke-width="2.6" stroke-linecap="round" stroke-linejoin="round"/></svg>
<svg style="left:1885px;top:807px" width="14" height="9" viewBox="0 0 14 9"><path d="M1.5 1.5 L7 7 L12.5 1.5" fill="none" stroke="#ececec" stroke-width="2.6" stroke-linecap="round" stroke-linejoin="round"/></svg>
<div class="r" style="left:1872px;top:834px;width:40px;height:1px;background:#585858"></div>
<!-- rotate -->
<svg style="left:1881px;top:849px" width="22" height="22" viewBox="0 0 22 22"><path d="M17.5 6 A8.5 8.5 0 1 0 19.3 12" fill="none" stroke="#e2e2e2" stroke-width="1.8" stroke-linecap="round"/><path d="M13 5.8 L18.3 6.6 L19 1.5" fill="none" stroke="#e2e2e2" stroke-width="1.8" stroke-linecap="round" stroke-linejoin="round"/></svg>
<!-- doc -->
<svg style="left:1882px;top:893px" width="27" height="28" viewBox="0 0 27 28"><path d="M3 1.5 H12.5 L18.5 7.5 V18.5 C18.5 20 17.8 21 16.5 21 H3 C1.8 21 1 20.2 1 19 V3.5 C1 2.3 1.8 1.5 3 1.5 Z" fill="none" stroke="#e2e2e2" stroke-width="1.7" stroke-linejoin="round"/><path d="M12.5 1.5 V7.5 H18.5" fill="none" stroke="#e2e2e2" stroke-width="1.5"/><path d="M6 16.5 L8.8 13.8 M6 13.6 V16.5 H8.8 M13.5 9.5 L10.8 12.2 M10.8 9.5 H13.5 V12.3" fill="none" stroke="#e2e2e2" stroke-width="1.5"/><path d="M25 20 V26 H19 Z" fill="#d8d8d8"/></svg>
<!-- zoom in -->
<svg style="left:1882px;top:941px" width="22" height="22" viewBox="0 0 22 22"><circle cx="8.5" cy="8.5" r="7" fill="none" stroke="#e2e2e2" stroke-width="1.8"/><path d="M13.5 13.5 L20 20" stroke="#e2e2e2" stroke-width="2" stroke-linecap="round"/><path d="M8.5 5 V12 M5 8.5 H12" stroke="#e2e2e2" stroke-width="1.8"/></svg>
<!-- zoom out -->
<svg style="left:1882px;top:987px" width="22" height="22" viewBox="0 0 22 22"><circle cx="8.5" cy="8.5" r="7" fill="none" stroke="#e2e2e2" stroke-width="1.8"/><path d="M13.5 13.5 L20 20" stroke="#e2e2e2" stroke-width="2" stroke-linecap="round"/><path d="M5 8.5 H12" stroke="#e2e2e2" stroke-width="2.2"/></svg>


<!-- bottom bar -->
<div class="r" style="left:0;top:999px;width:1838px;height:21px;background:#f8f8f8"></div>
<div class="r" style="left:0;top:999px;width:132px;height:1px;background:#2b2b2b"></div>
<div class="r" style="left:0;top:1000px;width:131px;height:20px;background:#dedede"></div>
<svg style="left:137px;top:1004px" width="6" height="9" viewBox="0 0 6 9"><path d="M6 0 V9 L0 4.5 Z" fill="#111"/></svg>
<div class="r" style="left:151px;top:1000px;width:1.5px;height:20px;background:#555"></div>
<div class="r" style="left:152.5px;top:1000px;width:1624px;height:18px;background:linear-gradient(180deg,#f1f1f1,#ebebeb)"></div>
<div class="r" style="left:1776.5px;top:1000px;width:1.5px;height:20px;background:#777"></div>
<svg style="left:1827px;top:1004px" width="6" height="9" viewBox="0 0 6 9"><path d="M0 0 V9 L6 4.5 Z" fill="#111"/></svg>
<div class="r" style="left:131px;top:1018px;width:1646px;height:2px;background:#6e6e6e"></div>
<div class="r" style="left:1818px;top:1018px;width:20px;height:2px;background:#555"></div>
<div class="r" style="left:1837.5px;top:998px;width:23px;height:22px;background:#333"></div>

<div class="t n" style="left:46.00px;top:16.03px;font-size:14.5px;line-height:14.5px;color:#d8d8d8;">Menu</div>
<div class="t n" style="left:192.03px;top:16.03px;font-size:15.2px;line-height:15.2px;color:#ececec;transform:scaleX(0.9683);">01-05. October YTD Fina...</div>
<div class="t n" style="left:424.03px;top:16.13px;font-size:15.2px;line-height:15.2px;color:#d2d2d2;transform:scaleX(0.9685);">01-06a. October transfers to revie...</div>
<div class="t n" style="left:687.04px;top:16.23px;font-size:15.2px;line-height:15.2px;color:#d2d2d2;transform:scaleX(0.9642);">01-06b. FY25 transfers to approv...</div>
<div class="t n" style="left:948.52px;top:15.93px;font-size:15.2px;line-height:15.2px;color:#d2d2d2;transform:scaleX(0.9788);">01-06c. FY26 transfers to approv...</div>
<div class="t n" style="left:1237.84px;top:16.26px;font-size:13.4px;line-height:13.4px;color:#dedede;transform:scaleX(0.9615);">Create</div>
<div class="t n" style="left:18.00px;top:65.36px;font-size:16px;line-height:16px;color:#e4e4e4;transform:scaleX(0.9821);">All tools</div>
<div class="t n" style="left:103.05px;top:65.36px;font-size:16px;line-height:16px;color:#e4e4e4;transform:scaleX(0.9519);">Edit</div>
<div class="t n" style="left:159.02px;top:65.36px;font-size:16px;line-height:16px;color:#e4e4e4;transform:scaleX(0.9818);">Convert</div>
<div class="t n" style="left:243.58px;top:65.36px;font-size:16px;line-height:16px;color:#e4e4e4;transform:scaleX(0.9174);">E-Sign</div>
<div class="t n" style="left:1429.90px;top:65.16px;font-size:15.4px;line-height:15.4px;color:#e2e2e2;transform:scaleX(1.0045);">Find text, tools, or help</div>
<div class="t n" style="left:24.03px;top:1003.40px;font-size:13px;line-height:13px;color:#262626;transform:scaleX(0.9711);">11.00 x 8.50 in</div>
<div class="t n sb" style="left:1884.83px;top:668.62px;font-size:13.8px;line-height:13.8px;color:#ededed;transform:scaleX(1.1667);">3</div>
<div class="t n sb" style="left:1881.39px;top:712.00px;font-size:15px;line-height:15px;color:#ededed;transform:scaleX(1.1133);">28</div>
<div class="r" style="left:1628px;top:0;width:292px;height:163.5px;overflow:hidden;background:#5e4e3c">
 <div class="r" style="left:0;top:0;width:292px;height:164px;filter:blur(1px)">
 <!-- ceiling base -->
 <div class="r" style="left:0;top:0;width:292px;height:50px;background:linear-gradient(90deg,#7e7266 0,#8a7058 8%,#9c7a56 40%,#a07c56 62%,#977e68 80%,#908278 100%)"></div>
 <div class="r" style="left:20px;top:0;width:170px;height:38px;background:repeating-linear-gradient(97deg,rgba(60,38,18,.42) 0 1.4px,rgba(0,0,0,0) 1.4px 5px);opacity:.9"></div>
 <div class="r" style="left:0;top:0;width:22px;height:45px;background:#857a70"></div>
 <div class="r" style="left:176px;top:35px;width:120px;height:2px;background:#5a4430;transform:rotate(-19deg);transform-origin:0 0"></div>
 <div class="r" style="left:148px;top:0;width:96px;height:2.5px;background:#fff3df;transform:rotate(5deg);transform-origin:0 0;box-shadow:0 0 3px #f5dcb8"></div>
 <div class="r" style="left:32px;top:25px;width:148px;height:2.5px;background:#fbe3c4;transform:rotate(3.2deg);transform-origin:0 0;box-shadow:0 0 3px #e8c49a"></div>
 <div class="r" style="left:199px;top:35px;width:95px;height:2.5px;background:#fbe3c4;transform:rotate(4deg);transform-origin:0 0;box-shadow:0 0 3px #e8c49a"></div>
 <div class="r" style="left:272px;top:11px;width:30px;height:2.5px;background:#fbe9d4;transform:rotate(4deg);transform-origin:0 0"></div>
 <!-- soffit band -->
 <div class="r" style="left:20px;top:35px;width:272px;height:15px;background:linear-gradient(180deg,#b5a894,#d3c9bb);transform:skewY(3deg);transform-origin:0 0"></div>
 <div class="r" style="left:40px;top:36px;width:230px;height:4px;background:radial-gradient(circle,#fff 0 1.3px,rgba(255,255,255,0) 1.6px) 0 0/18px 4px;transform:rotate(3.2deg);transform-origin:0 0"></div>
 <!-- wall -->
 <div class="r" style="left:0;top:45px;width:22px;height:80px;background:linear-gradient(180deg,#a29a8e,#b4ad9f)"></div>
 <div class="r" style="left:244px;top:50px;width:48px;height:75px;background:linear-gradient(90deg,#bcb4a4,#c9c2b2)"></div>
 <div class="r" style="left:20px;top:45px;width:26px;height:80px;background:linear-gradient(90deg,#b46e3a,#c27c46)"></div>
 <div class="r" style="left:46px;top:46px;width:33px;height:68px;background:linear-gradient(180deg,#e6e6e2,#dedcd6)"></div>
 <div class="r" style="left:79px;top:47px;width:53px;height:67px;background:linear-gradient(180deg,#cf8d54,#d3945a)"></div>
 <div class="r" style="left:132px;top:48px;width:28px;height:66px;background:linear-gradient(180deg,#ebebe7,#dddbd5)"></div>
 <div class="r" style="left:160px;top:49px;width:45px;height:64px;background:linear-gradient(180deg,#cf9056,#cc8c52)"></div>
 <div class="r" style="left:205px;top:50px;width:24px;height:63px;background:linear-gradient(180deg,#ebebe7,#dddbd5)"></div>
 <div class="r" style="left:229px;top:51px;width:15px;height:64px;background:linear-gradient(90deg,#c98748,#b7773f)"></div>
 <!-- screens -->
 <div class="r" style="left:0;top:63px;width:18px;height:31px;background:#45def2;border:2px solid #1b3458;border-left:0"></div>
 <div class="r" style="left:255px;top:70px;width:32px;height:22px;background:#38d8f6;border:2px solid #1b3458"></div>
 <!-- flags -->
 <div class="r" style="left:28px;top:80px;width:5px;height:48px;background:#4a5a8e"></div>
 <div class="r" style="left:77px;top:79px;width:7px;height:34px;background:repeating-linear-gradient(180deg,#b04848 0 1.6px,#eee4e4 1.6px 3.2px)"></div>
 <div class="r" style="left:165px;top:73px;width:7px;height:38px;background:repeating-linear-gradient(180deg,#b04848 0 1.6px,#eee4e4 1.6px 3.2px)"></div>
 <div class="r" style="left:228px;top:80px;width:7px;height:34px;background:repeating-linear-gradient(180deg,#b04848 0 1.6px,#eee4e4 1.6px 3.2px)"></div>
 <div class="r" style="left:235px;top:80px;width:8px;height:40px;background:#4a4e78"></div>
 <!-- chairs / people row -->
 <div class="r" style="left:8px;top:118px;width:16px;height:20px;background:#3a302c;border-radius:3px"></div>
 <div class="r" style="left:38px;top:113px;width:30px;height:18px;background:#2f2a2a;border-radius:3px"></div>
 <div class="r" style="left:68px;top:114px;width:16px;height:16px;background:#262222;border-radius:3px"></div>
 <div class="r" style="left:93px;top:112px;width:30px;height:15px;background:#26262e;border-radius:3px"></div>
 <div class="r" style="left:123px;top:112px;width:10px;height:14px;background:#34363e;border-radius:3px"></div>
 <div class="r" style="left:138px;top:110px;width:16px;height:14px;background:#2a2626;border-radius:3px"></div>
 <div class="r" style="left:156px;top:110px;width:20px;height:14px;background:#2c2830;border-radius:3px"></div>
 <div class="r" style="left:180px;top:110px;width:22px;height:13px;background:#3a3040;border-radius:3px"></div>
 <div class="r" style="left:204px;top:110px;width:28px;height:13px;background:#2e2a2c;border-radius:3px"></div>
 <div class="r" style="left:236px;top:109px;width:22px;height:14px;background:#2a2424;border-radius:3px"></div>
 <div class="r" style="left:262px;top:111px;width:30px;height:13px;background:#2c2828;border-radius:3px"></div>
 <!-- dais desk -->
 <div class="r" style="left:0;top:118px;width:292px;height:46px;background:linear-gradient(180deg,#b89058,#a27a48 55%,#8c6a40);clip-path:polygon(9.6% 47.8%,45% 13%,100% 8.7%,100% 69.6%,9.6% 69.6%)"></div>
 <!-- lower area -->
 <div class="r" style="left:0;top:138px;width:115px;height:26px;background:linear-gradient(180deg,#54432e,#3e3224)"></div>
 <div class="r" style="left:115px;top:143px;width:137px;height:21px;background:linear-gradient(180deg,#d2c29e,#b9a784)"></div>
 <div class="r" style="left:252px;top:140px;width:40px;height:24px;background:#a49d90"></div>
 <div class="r" style="left:149px;top:138px;width:14px;height:9px;background:#3fe6ea;transform:skewX(-10deg)"></div>
 <div class="r" style="left:164px;top:129px;width:19px;height:35px;background:#7d8c8a;border-radius:9px 9px 0 0"></div>
 <div class="r" style="left:202px;top:131px;width:19px;height:33px;background:#4e3446;border-radius:9px 9px 0 0"></div>
 <div class="r" style="left:0;top:160px;width:292px;height:4px;background:#2e2a26"></div>
 </div>
 <div class="t" style="left:2.5px;top:139.5px;font-size:14.5px;line-height:14.5px;font-weight:bold;color:#fbf6ee;transform:scaleX(1.0)">Meeting Room</div>
</div>

<div class="r" style="left:15.5px;top:614px;width:49.5px;height:368px;background:#2e2e2e;border-radius:6px;box-shadow:0 0 2px rgba(0,0,0,.25)"></div>
<div class="r" style="left:21px;top:619.5px;width:39px;height:5px;background:#5c5c5c;border-radius:2px"></div>
<div class="r" style="left:20px;top:636px;width:40px;height:40.5px;background:#1473e6;border-radius:3px"></div>
<svg style="left:33px;top:645px" width="14" height="20" viewBox="0 0 14 20"><path d="M1 1 V16 L4.8 12.4 L7.6 18.5 L10 17.4 L7.3 11.5 H12.5 Z" fill="#fff"/></svg>
<svg style="left:51px;top:665px" width="6" height="6" viewBox="0 0 6 6"><path d="M6 0 V6 H0 Z" fill="#fff"/></svg>
<!-- comment -->
<svg style="left:28px;top:695px" width="28" height="26" viewBox="0 0 28 26"><path d="M11 19 C5.5 19 1.5 15 1.5 10.3 C1.5 5.5 5.5 1.5 10.5 1.5 C15.5 1.5 19.5 5.5 19.5 10.3 V19 Z" fill="none" stroke="#dcdcdc" stroke-width="1.7" stroke-linejoin="round"/><path d="M6.5 9 H14.5 M6.5 12.5 H14.5" stroke="#dcdcdc" stroke-width="1.7"/><path d="M27 18 V24 H21 Z" fill="#d2d2d2"/></svg>
<!-- highlight pen -->
<svg style="left:27px;top:743px" width="30" height="26" viewBox="0 0 30 26"><rect x="11.5" y="-1" width="6.5" height="20" rx="3.2" transform="rotate(45 14.75 9)" fill="none" stroke="#dcdcdc" stroke-width="1.7"/><path d="M2.5 21 L6 17.5 L8.5 21 Z" fill="#dcdcdc"/><path d="M10.5 19.5 H20.5" stroke="#7a7a7a" stroke-width="3.5"/><path d="M29 18 V24 H23 Z" fill="#d2d2d2"/></svg>
<!-- lasso -->
<svg style="left:27px;top:795px" width="30" height="26" viewBox="0 0 30 26"><path d="M19.5 4.2 C14 1.8 4.5 3.5 2.6 9 C1.5 13 6.5 15.8 12.5 15 C18 14.2 23.5 11 23 7 C22.6 4.8 19.8 4.6 16.5 6.8" fill="none" stroke="#dcdcdc" stroke-width="1.9" stroke-linecap="round"/><path d="M29 19 V25 H23 Z" fill="#d2d2d2"/></svg>
<!-- text box -->
<svg style="left:27px;top:843px" width="30" height="26" viewBox="0 0 30 26"><rect x="2" y="1.8" width="21.5" height="20.5" fill="none" stroke="#dcdcdc" stroke-width="2.2" stroke-dasharray="2.6 1.5"/><path d="M8.2 17.5 L12.75 5.5 L17.3 17.5 M9.8 13.4 H15.7" fill="none" stroke="#dcdcdc" stroke-width="2"/><path d="M29 19 V25 H23 Z" fill="#d2d2d2"/></svg>
<!-- sign pen -->
<svg style="left:27px;top:893px" width="30" height="26" viewBox="0 0 30 26"><path d="M3.5 19.5 L6.5 10.5 L13 5 L18.5 10.5 L13 17 Z" fill="none" stroke="#dcdcdc" stroke-width="1.7" stroke-linejoin="round"/><path d="M3.5 19.5 L9.5 13.5" stroke="#dcdcdc" stroke-width="1.5"/><path d="M13 5 L15 3 L20.5 8.5 L18.5 10.5" fill="none" stroke="#dcdcdc" stroke-width="1.7" stroke-linejoin="round"/><path d="M14 19 L18 14.5 L21 19 Z" fill="#999"/><path d="M29 19 V25 H23 Z" fill="#d2d2d2"/></svg>
<!-- dots -->
<div class="r" style="left:33.5px;top:955px;width:3px;height:3px;background:#cfcfcf;border-radius:50%"></div>
<div class="r" style="left:40px;top:955px;width:3px;height:3px;background:#cfcfcf;border-radius:50%"></div>
<div class="r" style="left:46.5px;top:955px;width:3px;height:3px;background:#cfcfcf;border-radius:50%"></div>

</body></html>
